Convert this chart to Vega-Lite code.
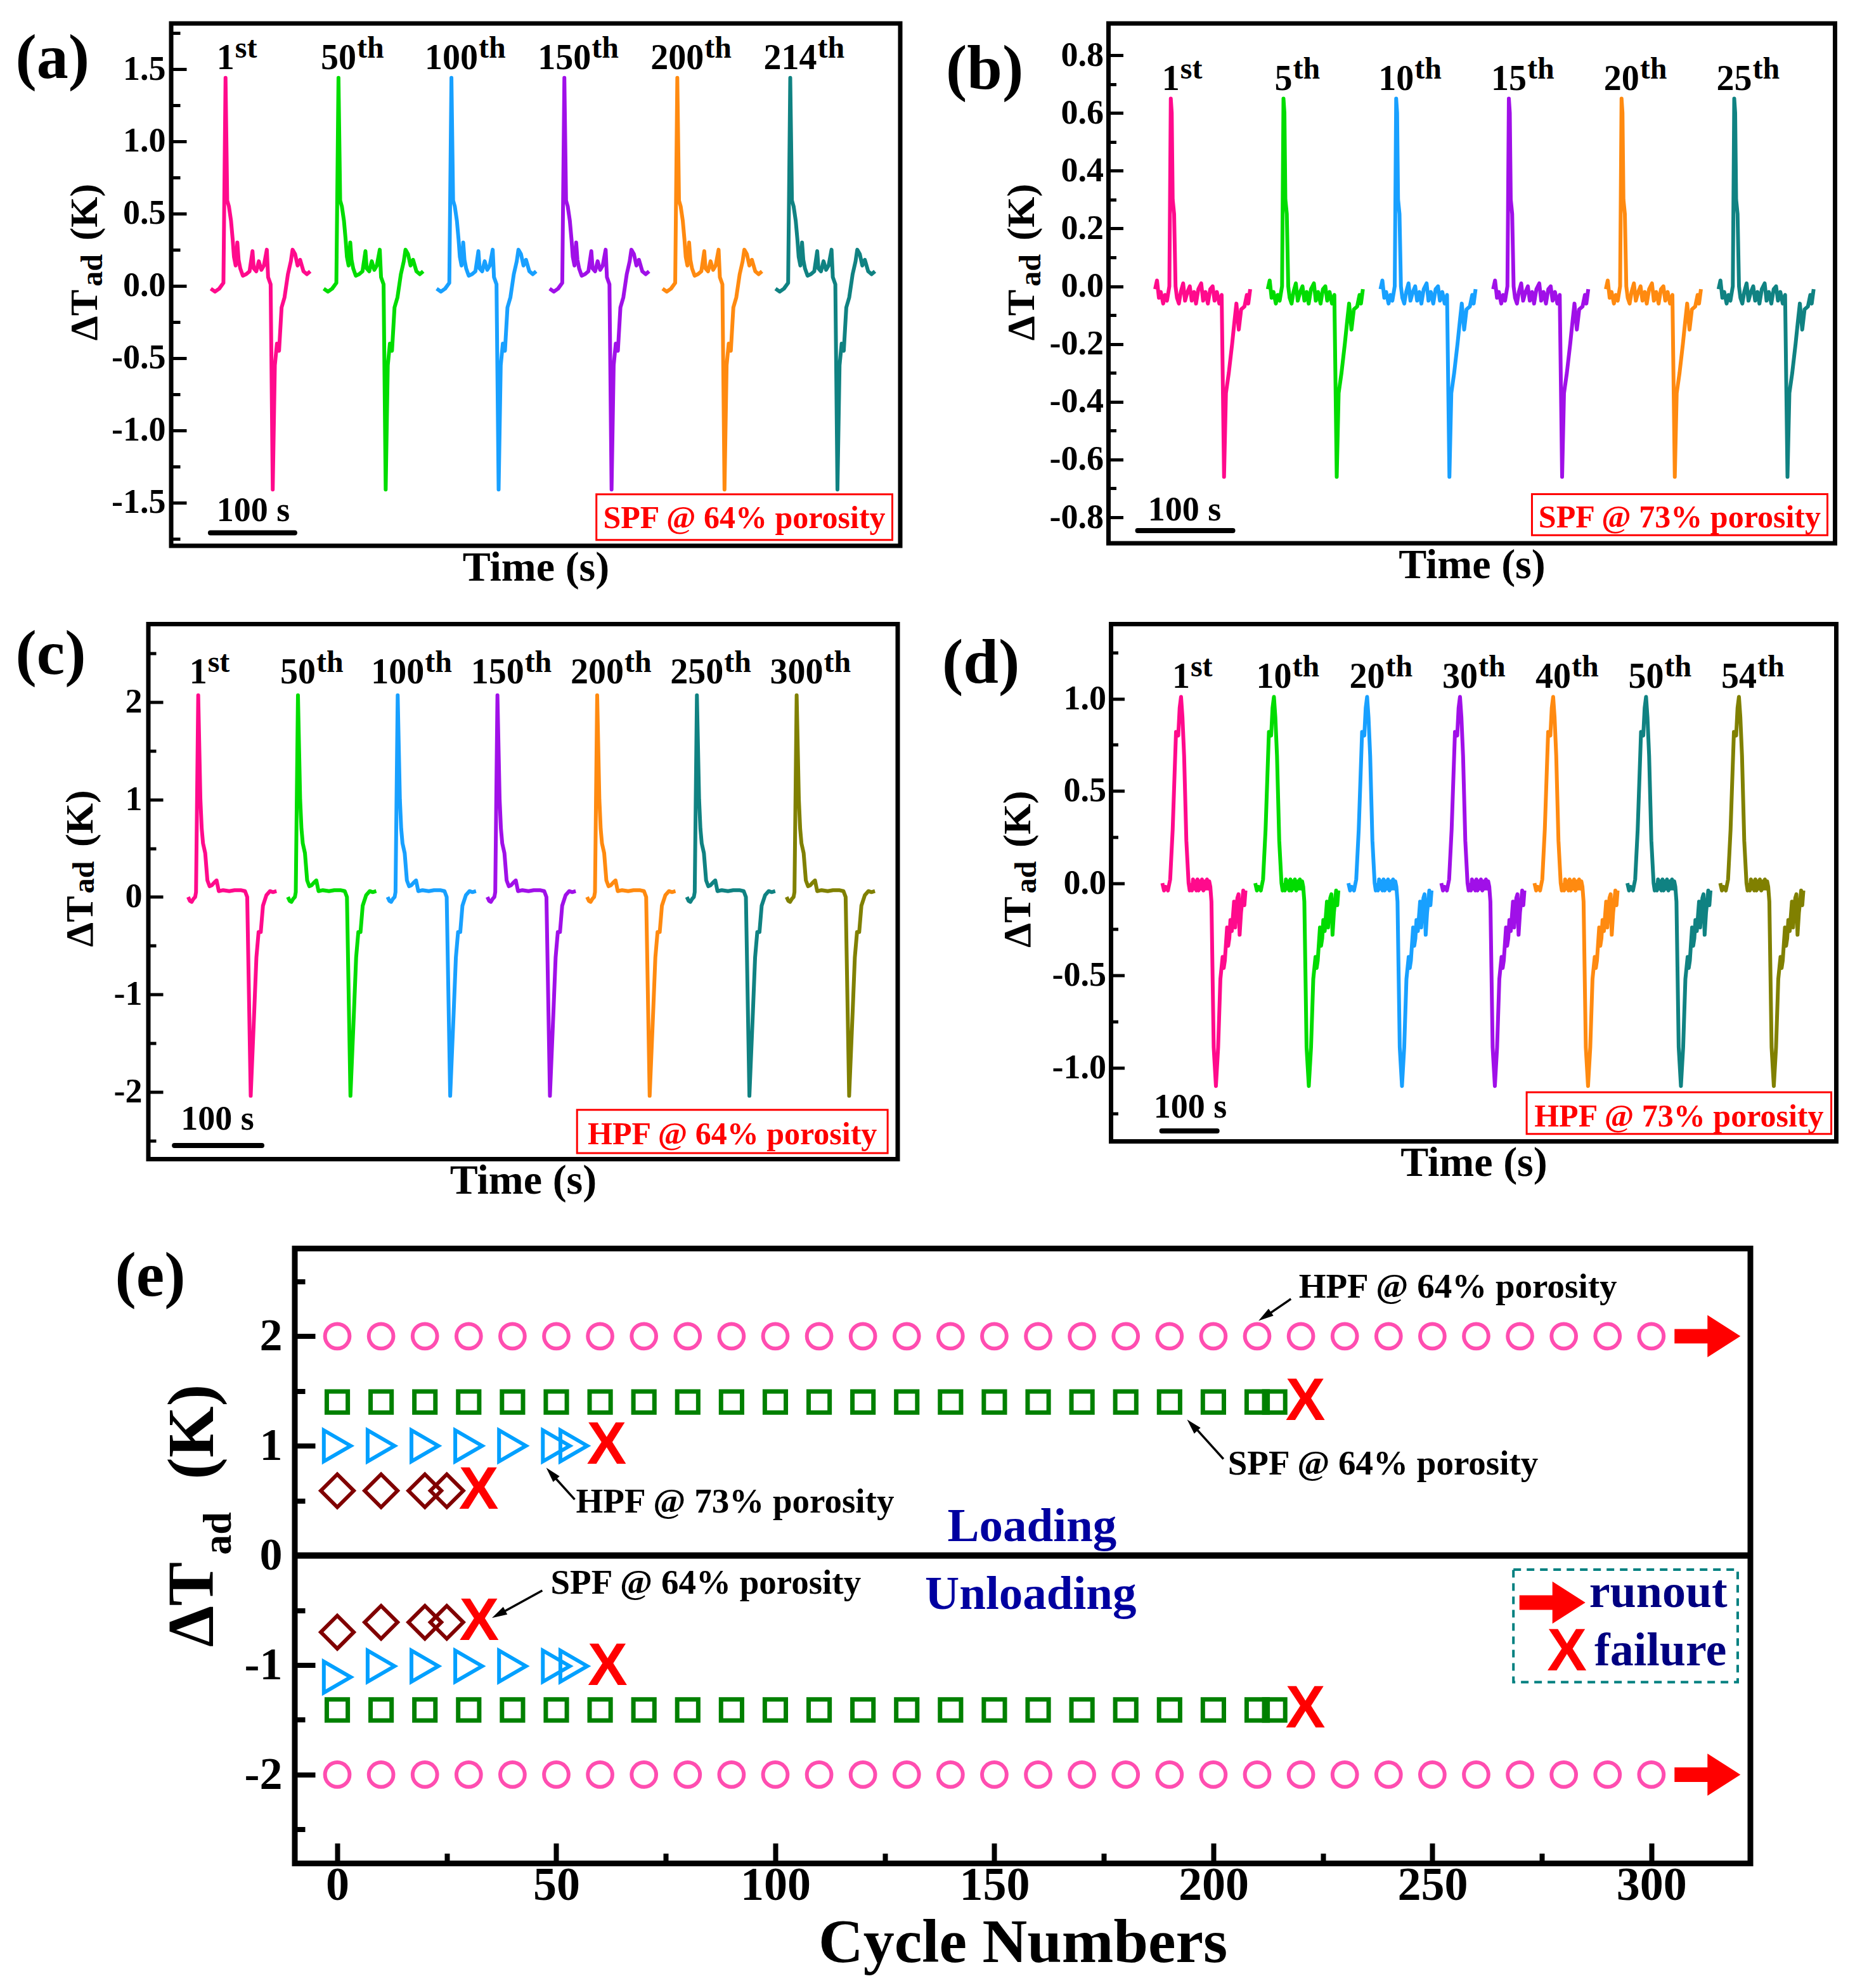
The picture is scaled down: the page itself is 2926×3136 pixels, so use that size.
{
"$schema": "https://vega.github.io/schema/vega-lite/v6.json",
"background": "white",
"padding": {"left": 0, "top": 33, "right": 5, "bottom": 5},
"config": {
  "font": "Liberation Serif",
  "view": {"stroke": "black", "strokeWidth": 7},
  "axis": {"domain": false, "grid": false, "labelFont": "Liberation Serif", "titleFont": "Liberation Serif", "labelFontWeight": "bold", "titleFontWeight": "bold", "labelColor": "black", "titleColor": "black", "tickColor": "black", "labelOverlap": false, "labelFlush": false},
  "text": {"font": "Liberation Serif", "fontWeight": "bold", "color": "black"}
},
"datasets": {
"a": [
{"c":0,"t":47,"v":-0.02},{"c":0,"t":52,"v":-0.04},{"c":0,"t":57,"v":-0.02},{"c":0,"t":62,"v":0.02},{"c":0,"t":64.5,"v":1.44},{"c":0,"t":66.5,"v":0.59},{"c":0,"t":68.5,"v":0.55},{"c":0,"t":71,"v":0.45},{"c":0,"t":73,"v":0.32},{"c":0,"t":74.5,"v":0.2},{"c":0,"t":76.5,"v":0.14},{"c":0,"t":78.5,"v":0.3},{"c":0,"t":80,"v":0.18},{"c":0,"t":82,"v":0.12},{"c":0,"t":85,"v":0.07},{"c":0,"t":89,"v":0.08},{"c":0,"t":93,"v":0.1},{"c":0,"t":96.5,"v":0.24},{"c":0,"t":98,"v":0.12},{"c":0,"t":101,"v":0.1},{"c":0,"t":104,"v":0.17},{"c":0,"t":107,"v":0.11},{"c":0,"t":110,"v":0.14},{"c":0,"t":113.5,"v":0.25},{"c":0,"t":115,"v":0.06},{"c":0,"t":118,"v":0.01},{"c":0,"t":120.5,"v":-1.41},{"c":0,"t":123,"v":-0.55},{"c":0,"t":125.5,"v":-0.4},{"c":0,"t":128,"v":-0.45},{"c":0,"t":131,"v":-0.15},{"c":0,"t":134.5,"v":-0.08},{"c":0,"t":138.5,"v":0.08},{"c":0,"t":142,"v":0.17},{"c":0,"t":144,"v":0.25},{"c":0,"t":147,"v":0.22},{"c":0,"t":150,"v":0.14},{"c":0,"t":153,"v":0.18},{"c":0,"t":157,"v":0.1},{"c":0,"t":161,"v":0.08},{"c":0,"t":165,"v":0.1},
{"c":1,"t":181,"v":-0.02},{"c":1,"t":186,"v":-0.04},{"c":1,"t":191,"v":-0.02},{"c":1,"t":196,"v":0.02},{"c":1,"t":198.5,"v":1.44},{"c":1,"t":200.5,"v":0.59},{"c":1,"t":202.5,"v":0.55},{"c":1,"t":205,"v":0.45},{"c":1,"t":207,"v":0.32},{"c":1,"t":208.5,"v":0.2},{"c":1,"t":210.5,"v":0.14},{"c":1,"t":212.5,"v":0.3},{"c":1,"t":214,"v":0.18},{"c":1,"t":216,"v":0.12},{"c":1,"t":219,"v":0.07},{"c":1,"t":223,"v":0.08},{"c":1,"t":227,"v":0.1},{"c":1,"t":230.5,"v":0.24},{"c":1,"t":232,"v":0.12},{"c":1,"t":235,"v":0.1},{"c":1,"t":238,"v":0.17},{"c":1,"t":241,"v":0.11},{"c":1,"t":244,"v":0.14},{"c":1,"t":247.5,"v":0.25},{"c":1,"t":249,"v":0.06},{"c":1,"t":252,"v":0.01},{"c":1,"t":254.5,"v":-1.41},{"c":1,"t":257,"v":-0.55},{"c":1,"t":259.5,"v":-0.4},{"c":1,"t":262,"v":-0.45},{"c":1,"t":265,"v":-0.15},{"c":1,"t":268.5,"v":-0.08},{"c":1,"t":272.5,"v":0.08},{"c":1,"t":276,"v":0.17},{"c":1,"t":278,"v":0.25},{"c":1,"t":281,"v":0.22},{"c":1,"t":284,"v":0.14},{"c":1,"t":287,"v":0.18},{"c":1,"t":291,"v":0.1},{"c":1,"t":295,"v":0.08},{"c":1,"t":299,"v":0.1},
{"c":2,"t":315,"v":-0.02},{"c":2,"t":320,"v":-0.04},{"c":2,"t":325,"v":-0.02},{"c":2,"t":330,"v":0.02},{"c":2,"t":332.5,"v":1.44},{"c":2,"t":334.5,"v":0.59},{"c":2,"t":336.5,"v":0.55},{"c":2,"t":339,"v":0.45},{"c":2,"t":341,"v":0.32},{"c":2,"t":342.5,"v":0.2},{"c":2,"t":344.5,"v":0.14},{"c":2,"t":346.5,"v":0.3},{"c":2,"t":348,"v":0.18},{"c":2,"t":350,"v":0.12},{"c":2,"t":353,"v":0.07},{"c":2,"t":357,"v":0.08},{"c":2,"t":361,"v":0.1},{"c":2,"t":364.5,"v":0.24},{"c":2,"t":366,"v":0.12},{"c":2,"t":369,"v":0.1},{"c":2,"t":372,"v":0.17},{"c":2,"t":375,"v":0.11},{"c":2,"t":378,"v":0.14},{"c":2,"t":381.5,"v":0.25},{"c":2,"t":383,"v":0.06},{"c":2,"t":386,"v":0.01},{"c":2,"t":388.5,"v":-1.41},{"c":2,"t":391,"v":-0.55},{"c":2,"t":393.5,"v":-0.4},{"c":2,"t":396,"v":-0.45},{"c":2,"t":399,"v":-0.15},{"c":2,"t":402.5,"v":-0.08},{"c":2,"t":406.5,"v":0.08},{"c":2,"t":410,"v":0.17},{"c":2,"t":412,"v":0.25},{"c":2,"t":415,"v":0.22},{"c":2,"t":418,"v":0.14},{"c":2,"t":421,"v":0.18},{"c":2,"t":425,"v":0.1},{"c":2,"t":429,"v":0.08},{"c":2,"t":433,"v":0.1},
{"c":3,"t":449,"v":-0.02},{"c":3,"t":454,"v":-0.04},{"c":3,"t":459,"v":-0.02},{"c":3,"t":464,"v":0.02},{"c":3,"t":466.5,"v":1.44},{"c":3,"t":468.5,"v":0.59},{"c":3,"t":470.5,"v":0.55},{"c":3,"t":473,"v":0.45},{"c":3,"t":475,"v":0.32},{"c":3,"t":476.5,"v":0.2},{"c":3,"t":478.5,"v":0.14},{"c":3,"t":480.5,"v":0.3},{"c":3,"t":482,"v":0.18},{"c":3,"t":484,"v":0.12},{"c":3,"t":487,"v":0.07},{"c":3,"t":491,"v":0.08},{"c":3,"t":495,"v":0.1},{"c":3,"t":498.5,"v":0.24},{"c":3,"t":500,"v":0.12},{"c":3,"t":503,"v":0.1},{"c":3,"t":506,"v":0.17},{"c":3,"t":509,"v":0.11},{"c":3,"t":512,"v":0.14},{"c":3,"t":515.5,"v":0.25},{"c":3,"t":517,"v":0.06},{"c":3,"t":520,"v":0.01},{"c":3,"t":522.5,"v":-1.41},{"c":3,"t":525,"v":-0.55},{"c":3,"t":527.5,"v":-0.4},{"c":3,"t":530,"v":-0.45},{"c":3,"t":533,"v":-0.15},{"c":3,"t":536.5,"v":-0.08},{"c":3,"t":540.5,"v":0.08},{"c":3,"t":544,"v":0.17},{"c":3,"t":546,"v":0.25},{"c":3,"t":549,"v":0.22},{"c":3,"t":552,"v":0.14},{"c":3,"t":555,"v":0.18},{"c":3,"t":559,"v":0.1},{"c":3,"t":563,"v":0.08},{"c":3,"t":567,"v":0.1},
{"c":4,"t":583,"v":-0.02},{"c":4,"t":588,"v":-0.04},{"c":4,"t":593,"v":-0.02},{"c":4,"t":598,"v":0.02},{"c":4,"t":600.5,"v":1.44},{"c":4,"t":602.5,"v":0.59},{"c":4,"t":604.5,"v":0.55},{"c":4,"t":607,"v":0.45},{"c":4,"t":609,"v":0.32},{"c":4,"t":610.5,"v":0.2},{"c":4,"t":612.5,"v":0.14},{"c":4,"t":614.5,"v":0.3},{"c":4,"t":616,"v":0.18},{"c":4,"t":618,"v":0.12},{"c":4,"t":621,"v":0.07},{"c":4,"t":625,"v":0.08},{"c":4,"t":629,"v":0.1},{"c":4,"t":632.5,"v":0.24},{"c":4,"t":634,"v":0.12},{"c":4,"t":637,"v":0.1},{"c":4,"t":640,"v":0.17},{"c":4,"t":643,"v":0.11},{"c":4,"t":646,"v":0.14},{"c":4,"t":649.5,"v":0.25},{"c":4,"t":651,"v":0.06},{"c":4,"t":654,"v":0.01},{"c":4,"t":656.5,"v":-1.41},{"c":4,"t":659,"v":-0.55},{"c":4,"t":661.5,"v":-0.4},{"c":4,"t":664,"v":-0.45},{"c":4,"t":667,"v":-0.15},{"c":4,"t":670.5,"v":-0.08},{"c":4,"t":674.5,"v":0.08},{"c":4,"t":678,"v":0.17},{"c":4,"t":680,"v":0.25},{"c":4,"t":683,"v":0.22},{"c":4,"t":686,"v":0.14},{"c":4,"t":689,"v":0.18},{"c":4,"t":693,"v":0.1},{"c":4,"t":697,"v":0.08},{"c":4,"t":701,"v":0.1},
{"c":5,"t":717,"v":-0.02},{"c":5,"t":722,"v":-0.04},{"c":5,"t":727,"v":-0.02},{"c":5,"t":732,"v":0.02},{"c":5,"t":734.5,"v":1.44},{"c":5,"t":736.5,"v":0.59},{"c":5,"t":738.5,"v":0.55},{"c":5,"t":741,"v":0.45},{"c":5,"t":743,"v":0.32},{"c":5,"t":744.5,"v":0.2},{"c":5,"t":746.5,"v":0.14},{"c":5,"t":748.5,"v":0.3},{"c":5,"t":750,"v":0.18},{"c":5,"t":752,"v":0.12},{"c":5,"t":755,"v":0.07},{"c":5,"t":759,"v":0.08},{"c":5,"t":763,"v":0.1},{"c":5,"t":766.5,"v":0.24},{"c":5,"t":768,"v":0.12},{"c":5,"t":771,"v":0.1},{"c":5,"t":774,"v":0.17},{"c":5,"t":777,"v":0.11},{"c":5,"t":780,"v":0.14},{"c":5,"t":783.5,"v":0.25},{"c":5,"t":785,"v":0.06},{"c":5,"t":788,"v":0.01},{"c":5,"t":790.5,"v":-1.41},{"c":5,"t":793,"v":-0.55},{"c":5,"t":795.5,"v":-0.4},{"c":5,"t":798,"v":-0.45},{"c":5,"t":801,"v":-0.15},{"c":5,"t":804.5,"v":-0.08},{"c":5,"t":808.5,"v":0.08},{"c":5,"t":812,"v":0.17},{"c":5,"t":814,"v":0.25},{"c":5,"t":817,"v":0.22},{"c":5,"t":820,"v":0.14},{"c":5,"t":823,"v":0.18},{"c":5,"t":827,"v":0.1},{"c":5,"t":831,"v":0.08},{"c":5,"t":835,"v":0.1}
],
"aLab": [{"n":"1","s":"st","t":64.5},{"n":"50","s":"th","t":198.5},{"n":"100","s":"th","t":332.5},{"n":"150","s":"th","t":466.5},{"n":"200","s":"th","t":600.5},{"n":"214","s":"th","t":734.5}],
"b": [
{"c":0,"t":49,"v":-0.01},{"c":0,"t":51,"v":0.02},{"c":0,"t":53,"v":-0.04},{"c":0,"t":55,"v":-0.02},{"c":0,"t":57.5,"v":-0.06},{"c":0,"t":59.5,"v":-0.03},{"c":0,"t":61.5,"v":-0.05},{"c":0,"t":64,"v":0},{"c":0,"t":65.5,"v":0.65},{"c":0,"t":66.5,"v":0.6},{"c":0,"t":67.5,"v":0.3},{"c":0,"t":69,"v":0.25},{"c":0,"t":70.5,"v":0},{"c":0,"t":72,"v":-0.04},{"c":0,"t":74,"v":-0.06},{"c":0,"t":76,"v":-0.02},{"c":0,"t":78.5,"v":0.01},{"c":0,"t":80.5,"v":-0.05},{"c":0,"t":83,"v":-0.02},{"c":0,"t":85.5,"v":0},{"c":0,"t":87.5,"v":-0.05},{"c":0,"t":90,"v":-0.02},{"c":0,"t":92,"v":-0.06},{"c":0,"t":94.5,"v":-0.01},{"c":0,"t":97.5,"v":0.01},{"c":0,"t":99.5,"v":-0.05},{"c":0,"t":102,"v":-0.02},{"c":0,"t":104.5,"v":-0.06},{"c":0,"t":107,"v":-0.01},{"c":0,"t":109.5,"v":0},{"c":0,"t":111.5,"v":-0.05},{"c":0,"t":114,"v":-0.02},{"c":0,"t":116.5,"v":-0.06},{"c":0,"t":119,"v":-0.03},{"c":0,"t":121.5,"v":-0.66},{"c":0,"t":123.5,"v":-0.37},{"c":0,"t":126.5,"v":-0.3},{"c":0,"t":130,"v":-0.2},{"c":0,"t":132.5,"v":-0.12},{"c":0,"t":134.5,"v":-0.06},{"c":0,"t":137,"v":-0.15},{"c":0,"t":139.5,"v":-0.08},{"c":0,"t":143,"v":-0.07},{"c":0,"t":145.5,"v":-0.03},{"c":0,"t":147,"v":-0.06},{"c":0,"t":149,"v":-0.01},
{"c":1,"t":167.5,"v":-0.01},{"c":1,"t":169.5,"v":0.02},{"c":1,"t":171.5,"v":-0.04},{"c":1,"t":173.5,"v":-0.02},{"c":1,"t":176,"v":-0.06},{"c":1,"t":178,"v":-0.03},{"c":1,"t":180,"v":-0.05},{"c":1,"t":182.5,"v":0},{"c":1,"t":184,"v":0.65},{"c":1,"t":185,"v":0.6},{"c":1,"t":186,"v":0.3},{"c":1,"t":187.5,"v":0.25},{"c":1,"t":189,"v":0},{"c":1,"t":190.5,"v":-0.04},{"c":1,"t":192.5,"v":-0.06},{"c":1,"t":194.5,"v":-0.02},{"c":1,"t":197,"v":0.01},{"c":1,"t":199,"v":-0.05},{"c":1,"t":201.5,"v":-0.02},{"c":1,"t":204,"v":0},{"c":1,"t":206,"v":-0.05},{"c":1,"t":208.5,"v":-0.02},{"c":1,"t":210.5,"v":-0.06},{"c":1,"t":213,"v":-0.01},{"c":1,"t":216,"v":0.01},{"c":1,"t":218,"v":-0.05},{"c":1,"t":220.5,"v":-0.02},{"c":1,"t":223,"v":-0.06},{"c":1,"t":225.5,"v":-0.01},{"c":1,"t":228,"v":0},{"c":1,"t":230,"v":-0.05},{"c":1,"t":232.5,"v":-0.02},{"c":1,"t":235,"v":-0.06},{"c":1,"t":237.5,"v":-0.03},{"c":1,"t":240,"v":-0.66},{"c":1,"t":242,"v":-0.37},{"c":1,"t":245,"v":-0.3},{"c":1,"t":248.5,"v":-0.2},{"c":1,"t":251,"v":-0.12},{"c":1,"t":253,"v":-0.06},{"c":1,"t":255.5,"v":-0.15},{"c":1,"t":258,"v":-0.08},{"c":1,"t":261.5,"v":-0.07},{"c":1,"t":264,"v":-0.03},{"c":1,"t":265.5,"v":-0.06},{"c":1,"t":267.5,"v":-0.01},
{"c":2,"t":286,"v":-0.01},{"c":2,"t":288,"v":0.02},{"c":2,"t":290,"v":-0.04},{"c":2,"t":292,"v":-0.02},{"c":2,"t":294.5,"v":-0.06},{"c":2,"t":296.5,"v":-0.03},{"c":2,"t":298.5,"v":-0.05},{"c":2,"t":301,"v":0},{"c":2,"t":302.5,"v":0.65},{"c":2,"t":303.5,"v":0.6},{"c":2,"t":304.5,"v":0.3},{"c":2,"t":306,"v":0.25},{"c":2,"t":307.5,"v":0},{"c":2,"t":309,"v":-0.04},{"c":2,"t":311,"v":-0.06},{"c":2,"t":313,"v":-0.02},{"c":2,"t":315.5,"v":0.01},{"c":2,"t":317.5,"v":-0.05},{"c":2,"t":320,"v":-0.02},{"c":2,"t":322.5,"v":0},{"c":2,"t":324.5,"v":-0.05},{"c":2,"t":327,"v":-0.02},{"c":2,"t":329,"v":-0.06},{"c":2,"t":331.5,"v":-0.01},{"c":2,"t":334.5,"v":0.01},{"c":2,"t":336.5,"v":-0.05},{"c":2,"t":339,"v":-0.02},{"c":2,"t":341.5,"v":-0.06},{"c":2,"t":344,"v":-0.01},{"c":2,"t":346.5,"v":0},{"c":2,"t":348.5,"v":-0.05},{"c":2,"t":351,"v":-0.02},{"c":2,"t":353.5,"v":-0.06},{"c":2,"t":356,"v":-0.03},{"c":2,"t":358.5,"v":-0.66},{"c":2,"t":360.5,"v":-0.37},{"c":2,"t":363.5,"v":-0.3},{"c":2,"t":367,"v":-0.2},{"c":2,"t":369.5,"v":-0.12},{"c":2,"t":371.5,"v":-0.06},{"c":2,"t":374,"v":-0.15},{"c":2,"t":376.5,"v":-0.08},{"c":2,"t":380,"v":-0.07},{"c":2,"t":382.5,"v":-0.03},{"c":2,"t":384,"v":-0.06},{"c":2,"t":386,"v":-0.01},
{"c":3,"t":404.5,"v":-0.01},{"c":3,"t":406.5,"v":0.02},{"c":3,"t":408.5,"v":-0.04},{"c":3,"t":410.5,"v":-0.02},{"c":3,"t":413,"v":-0.06},{"c":3,"t":415,"v":-0.03},{"c":3,"t":417,"v":-0.05},{"c":3,"t":419.5,"v":0},{"c":3,"t":421,"v":0.65},{"c":3,"t":422,"v":0.6},{"c":3,"t":423,"v":0.3},{"c":3,"t":424.5,"v":0.25},{"c":3,"t":426,"v":0},{"c":3,"t":427.5,"v":-0.04},{"c":3,"t":429.5,"v":-0.06},{"c":3,"t":431.5,"v":-0.02},{"c":3,"t":434,"v":0.01},{"c":3,"t":436,"v":-0.05},{"c":3,"t":438.5,"v":-0.02},{"c":3,"t":441,"v":0},{"c":3,"t":443,"v":-0.05},{"c":3,"t":445.5,"v":-0.02},{"c":3,"t":447.5,"v":-0.06},{"c":3,"t":450,"v":-0.01},{"c":3,"t":453,"v":0.01},{"c":3,"t":455,"v":-0.05},{"c":3,"t":457.5,"v":-0.02},{"c":3,"t":460,"v":-0.06},{"c":3,"t":462.5,"v":-0.01},{"c":3,"t":465,"v":0},{"c":3,"t":467,"v":-0.05},{"c":3,"t":469.5,"v":-0.02},{"c":3,"t":472,"v":-0.06},{"c":3,"t":474.5,"v":-0.03},{"c":3,"t":477,"v":-0.66},{"c":3,"t":479,"v":-0.37},{"c":3,"t":482,"v":-0.3},{"c":3,"t":485.5,"v":-0.2},{"c":3,"t":488,"v":-0.12},{"c":3,"t":490,"v":-0.06},{"c":3,"t":492.5,"v":-0.15},{"c":3,"t":495,"v":-0.08},{"c":3,"t":498.5,"v":-0.07},{"c":3,"t":501,"v":-0.03},{"c":3,"t":502.5,"v":-0.06},{"c":3,"t":504.5,"v":-0.01},
{"c":4,"t":523,"v":-0.01},{"c":4,"t":525,"v":0.02},{"c":4,"t":527,"v":-0.04},{"c":4,"t":529,"v":-0.02},{"c":4,"t":531.5,"v":-0.06},{"c":4,"t":533.5,"v":-0.03},{"c":4,"t":535.5,"v":-0.05},{"c":4,"t":538,"v":0},{"c":4,"t":539.5,"v":0.65},{"c":4,"t":540.5,"v":0.6},{"c":4,"t":541.5,"v":0.3},{"c":4,"t":543,"v":0.25},{"c":4,"t":544.5,"v":0},{"c":4,"t":546,"v":-0.04},{"c":4,"t":548,"v":-0.06},{"c":4,"t":550,"v":-0.02},{"c":4,"t":552.5,"v":0.01},{"c":4,"t":554.5,"v":-0.05},{"c":4,"t":557,"v":-0.02},{"c":4,"t":559.5,"v":0},{"c":4,"t":561.5,"v":-0.05},{"c":4,"t":564,"v":-0.02},{"c":4,"t":566,"v":-0.06},{"c":4,"t":568.5,"v":-0.01},{"c":4,"t":571.5,"v":0.01},{"c":4,"t":573.5,"v":-0.05},{"c":4,"t":576,"v":-0.02},{"c":4,"t":578.5,"v":-0.06},{"c":4,"t":581,"v":-0.01},{"c":4,"t":583.5,"v":0},{"c":4,"t":585.5,"v":-0.05},{"c":4,"t":588,"v":-0.02},{"c":4,"t":590.5,"v":-0.06},{"c":4,"t":593,"v":-0.03},{"c":4,"t":595.5,"v":-0.66},{"c":4,"t":597.5,"v":-0.37},{"c":4,"t":600.5,"v":-0.3},{"c":4,"t":604,"v":-0.2},{"c":4,"t":606.5,"v":-0.12},{"c":4,"t":608.5,"v":-0.06},{"c":4,"t":611,"v":-0.15},{"c":4,"t":613.5,"v":-0.08},{"c":4,"t":617,"v":-0.07},{"c":4,"t":619.5,"v":-0.03},{"c":4,"t":621,"v":-0.06},{"c":4,"t":623,"v":-0.01},
{"c":5,"t":641.5,"v":-0.01},{"c":5,"t":643.5,"v":0.02},{"c":5,"t":645.5,"v":-0.04},{"c":5,"t":647.5,"v":-0.02},{"c":5,"t":650,"v":-0.06},{"c":5,"t":652,"v":-0.03},{"c":5,"t":654,"v":-0.05},{"c":5,"t":656.5,"v":0},{"c":5,"t":658,"v":0.65},{"c":5,"t":659,"v":0.6},{"c":5,"t":660,"v":0.3},{"c":5,"t":661.5,"v":0.25},{"c":5,"t":663,"v":0},{"c":5,"t":664.5,"v":-0.04},{"c":5,"t":666.5,"v":-0.06},{"c":5,"t":668.5,"v":-0.02},{"c":5,"t":671,"v":0.01},{"c":5,"t":673,"v":-0.05},{"c":5,"t":675.5,"v":-0.02},{"c":5,"t":678,"v":0},{"c":5,"t":680,"v":-0.05},{"c":5,"t":682.5,"v":-0.02},{"c":5,"t":684.5,"v":-0.06},{"c":5,"t":687,"v":-0.01},{"c":5,"t":690,"v":0.01},{"c":5,"t":692,"v":-0.05},{"c":5,"t":694.5,"v":-0.02},{"c":5,"t":697,"v":-0.06},{"c":5,"t":699.5,"v":-0.01},{"c":5,"t":702,"v":0},{"c":5,"t":704,"v":-0.05},{"c":5,"t":706.5,"v":-0.02},{"c":5,"t":709,"v":-0.06},{"c":5,"t":711.5,"v":-0.03},{"c":5,"t":714,"v":-0.66},{"c":5,"t":716,"v":-0.37},{"c":5,"t":719,"v":-0.3},{"c":5,"t":722.5,"v":-0.2},{"c":5,"t":725,"v":-0.12},{"c":5,"t":727,"v":-0.06},{"c":5,"t":729.5,"v":-0.15},{"c":5,"t":732,"v":-0.08},{"c":5,"t":735.5,"v":-0.07},{"c":5,"t":738,"v":-0.03},{"c":5,"t":739.5,"v":-0.06},{"c":5,"t":741.5,"v":-0.01}
],
"bLab": [{"n":"1","s":"st","t":65.5},{"n":"5","s":"th","t":184},{"n":"10","s":"th","t":302.5},{"n":"15","s":"th","t":421},{"n":"20","s":"th","t":539.5},{"n":"25","s":"th","t":658}],
"c": [
{"c":0,"t":45.5,"v":0},{"c":0,"t":47.5,"v":-0.04},{"c":0,"t":49.5,"v":-0.05},{"c":0,"t":51.5,"v":-0.02},{"c":0,"t":53.5,"v":0},{"c":0,"t":54.5,"v":0.05},{"c":0,"t":57,"v":2.07},{"c":0,"t":59.5,"v":1},{"c":0,"t":61,"v":0.7},{"c":0,"t":62.5,"v":0.55},{"c":0,"t":65,"v":0.45},{"c":0,"t":67.5,"v":0.17},{"c":0,"t":70,"v":0.11},{"c":0,"t":72.5,"v":0.12},{"c":0,"t":75.5,"v":0.15},{"c":0,"t":78,"v":0.17},{"c":0,"t":80.5,"v":0.06},{"c":0,"t":85.5,"v":0.07},{"c":0,"t":92.5,"v":0.06},{"c":0,"t":98.5,"v":0.07},{"c":0,"t":105.5,"v":0.07},{"c":0,"t":110.5,"v":0.06},{"c":0,"t":113,"v":0},{"c":0,"t":117,"v":-2.04},{"c":0,"t":121,"v":-1.18},{"c":0,"t":123.5,"v":-0.62},{"c":0,"t":126,"v":-0.36},{"c":0,"t":128.5,"v":-0.36},{"c":0,"t":131,"v":-0.09},{"c":0,"t":135,"v":0.02},{"c":0,"t":139,"v":0.06},{"c":0,"t":142.5,"v":0.05},{"c":0,"t":146.5,"v":0.06},
{"c":1,"t":159.5,"v":0},{"c":1,"t":161.5,"v":-0.04},{"c":1,"t":163.5,"v":-0.05},{"c":1,"t":165.5,"v":-0.02},{"c":1,"t":167.5,"v":0},{"c":1,"t":168.5,"v":0.05},{"c":1,"t":171,"v":2.07},{"c":1,"t":173.5,"v":1},{"c":1,"t":175,"v":0.7},{"c":1,"t":176.5,"v":0.55},{"c":1,"t":179,"v":0.45},{"c":1,"t":181.5,"v":0.17},{"c":1,"t":184,"v":0.11},{"c":1,"t":186.5,"v":0.12},{"c":1,"t":189.5,"v":0.15},{"c":1,"t":192,"v":0.17},{"c":1,"t":194.5,"v":0.06},{"c":1,"t":199.5,"v":0.07},{"c":1,"t":206.5,"v":0.06},{"c":1,"t":212.5,"v":0.07},{"c":1,"t":219.5,"v":0.07},{"c":1,"t":224.5,"v":0.06},{"c":1,"t":227,"v":0},{"c":1,"t":231,"v":-2.04},{"c":1,"t":235,"v":-1.18},{"c":1,"t":237.5,"v":-0.62},{"c":1,"t":240,"v":-0.36},{"c":1,"t":242.5,"v":-0.36},{"c":1,"t":245,"v":-0.09},{"c":1,"t":249,"v":0.02},{"c":1,"t":253,"v":0.06},{"c":1,"t":256.5,"v":0.05},{"c":1,"t":260.5,"v":0.06},
{"c":2,"t":273.5,"v":0},{"c":2,"t":275.5,"v":-0.04},{"c":2,"t":277.5,"v":-0.05},{"c":2,"t":279.5,"v":-0.02},{"c":2,"t":281.5,"v":0},{"c":2,"t":282.5,"v":0.05},{"c":2,"t":285,"v":2.07},{"c":2,"t":287.5,"v":1},{"c":2,"t":289,"v":0.7},{"c":2,"t":290.5,"v":0.55},{"c":2,"t":293,"v":0.45},{"c":2,"t":295.5,"v":0.17},{"c":2,"t":298,"v":0.11},{"c":2,"t":300.5,"v":0.12},{"c":2,"t":303.5,"v":0.15},{"c":2,"t":306,"v":0.17},{"c":2,"t":308.5,"v":0.06},{"c":2,"t":313.5,"v":0.07},{"c":2,"t":320.5,"v":0.06},{"c":2,"t":326.5,"v":0.07},{"c":2,"t":333.5,"v":0.07},{"c":2,"t":338.5,"v":0.06},{"c":2,"t":341,"v":0},{"c":2,"t":345,"v":-2.04},{"c":2,"t":349,"v":-1.18},{"c":2,"t":351.5,"v":-0.62},{"c":2,"t":354,"v":-0.36},{"c":2,"t":356.5,"v":-0.36},{"c":2,"t":359,"v":-0.09},{"c":2,"t":363,"v":0.02},{"c":2,"t":367,"v":0.06},{"c":2,"t":370.5,"v":0.05},{"c":2,"t":374.5,"v":0.06},
{"c":3,"t":387.5,"v":0},{"c":3,"t":389.5,"v":-0.04},{"c":3,"t":391.5,"v":-0.05},{"c":3,"t":393.5,"v":-0.02},{"c":3,"t":395.5,"v":0},{"c":3,"t":396.5,"v":0.05},{"c":3,"t":399,"v":2.07},{"c":3,"t":401.5,"v":1},{"c":3,"t":403,"v":0.7},{"c":3,"t":404.5,"v":0.55},{"c":3,"t":407,"v":0.45},{"c":3,"t":409.5,"v":0.17},{"c":3,"t":412,"v":0.11},{"c":3,"t":414.5,"v":0.12},{"c":3,"t":417.5,"v":0.15},{"c":3,"t":420,"v":0.17},{"c":3,"t":422.5,"v":0.06},{"c":3,"t":427.5,"v":0.07},{"c":3,"t":434.5,"v":0.06},{"c":3,"t":440.5,"v":0.07},{"c":3,"t":447.5,"v":0.07},{"c":3,"t":452.5,"v":0.06},{"c":3,"t":455,"v":0},{"c":3,"t":459,"v":-2.04},{"c":3,"t":463,"v":-1.18},{"c":3,"t":465.5,"v":-0.62},{"c":3,"t":468,"v":-0.36},{"c":3,"t":470.5,"v":-0.36},{"c":3,"t":473,"v":-0.09},{"c":3,"t":477,"v":0.02},{"c":3,"t":481,"v":0.06},{"c":3,"t":484.5,"v":0.05},{"c":3,"t":488.5,"v":0.06},
{"c":4,"t":501.5,"v":0},{"c":4,"t":503.5,"v":-0.04},{"c":4,"t":505.5,"v":-0.05},{"c":4,"t":507.5,"v":-0.02},{"c":4,"t":509.5,"v":0},{"c":4,"t":510.5,"v":0.05},{"c":4,"t":513,"v":2.07},{"c":4,"t":515.5,"v":1},{"c":4,"t":517,"v":0.7},{"c":4,"t":518.5,"v":0.55},{"c":4,"t":521,"v":0.45},{"c":4,"t":523.5,"v":0.17},{"c":4,"t":526,"v":0.11},{"c":4,"t":528.5,"v":0.12},{"c":4,"t":531.5,"v":0.15},{"c":4,"t":534,"v":0.17},{"c":4,"t":536.5,"v":0.06},{"c":4,"t":541.5,"v":0.07},{"c":4,"t":548.5,"v":0.06},{"c":4,"t":554.5,"v":0.07},{"c":4,"t":561.5,"v":0.07},{"c":4,"t":566.5,"v":0.06},{"c":4,"t":569,"v":0},{"c":4,"t":573,"v":-2.04},{"c":4,"t":577,"v":-1.18},{"c":4,"t":579.5,"v":-0.62},{"c":4,"t":582,"v":-0.36},{"c":4,"t":584.5,"v":-0.36},{"c":4,"t":587,"v":-0.09},{"c":4,"t":591,"v":0.02},{"c":4,"t":595,"v":0.06},{"c":4,"t":598.5,"v":0.05},{"c":4,"t":602.5,"v":0.06},
{"c":5,"t":615.5,"v":0},{"c":5,"t":617.5,"v":-0.04},{"c":5,"t":619.5,"v":-0.05},{"c":5,"t":621.5,"v":-0.02},{"c":5,"t":623.5,"v":0},{"c":5,"t":624.5,"v":0.05},{"c":5,"t":627,"v":2.07},{"c":5,"t":629.5,"v":1},{"c":5,"t":631,"v":0.7},{"c":5,"t":632.5,"v":0.55},{"c":5,"t":635,"v":0.45},{"c":5,"t":637.5,"v":0.17},{"c":5,"t":640,"v":0.11},{"c":5,"t":642.5,"v":0.12},{"c":5,"t":645.5,"v":0.15},{"c":5,"t":648,"v":0.17},{"c":5,"t":650.5,"v":0.06},{"c":5,"t":655.5,"v":0.07},{"c":5,"t":662.5,"v":0.06},{"c":5,"t":668.5,"v":0.07},{"c":5,"t":675.5,"v":0.07},{"c":5,"t":680.5,"v":0.06},{"c":5,"t":683,"v":0},{"c":5,"t":687,"v":-2.04},{"c":5,"t":691,"v":-1.18},{"c":5,"t":693.5,"v":-0.62},{"c":5,"t":696,"v":-0.36},{"c":5,"t":698.5,"v":-0.36},{"c":5,"t":701,"v":-0.09},{"c":5,"t":705,"v":0.02},{"c":5,"t":709,"v":0.06},{"c":5,"t":712.5,"v":0.05},{"c":5,"t":716.5,"v":0.06},
{"c":6,"t":729.5,"v":0},{"c":6,"t":731.5,"v":-0.04},{"c":6,"t":733.5,"v":-0.05},{"c":6,"t":735.5,"v":-0.02},{"c":6,"t":737.5,"v":0},{"c":6,"t":738.5,"v":0.05},{"c":6,"t":741,"v":2.07},{"c":6,"t":743.5,"v":1},{"c":6,"t":745,"v":0.7},{"c":6,"t":746.5,"v":0.55},{"c":6,"t":749,"v":0.45},{"c":6,"t":751.5,"v":0.17},{"c":6,"t":754,"v":0.11},{"c":6,"t":756.5,"v":0.12},{"c":6,"t":759.5,"v":0.15},{"c":6,"t":762,"v":0.17},{"c":6,"t":764.5,"v":0.06},{"c":6,"t":769.5,"v":0.07},{"c":6,"t":776.5,"v":0.06},{"c":6,"t":782.5,"v":0.07},{"c":6,"t":789.5,"v":0.07},{"c":6,"t":794.5,"v":0.06},{"c":6,"t":797,"v":0},{"c":6,"t":801,"v":-2.04},{"c":6,"t":805,"v":-1.18},{"c":6,"t":807.5,"v":-0.62},{"c":6,"t":810,"v":-0.36},{"c":6,"t":812.5,"v":-0.36},{"c":6,"t":815,"v":-0.09},{"c":6,"t":819,"v":0.02},{"c":6,"t":823,"v":0.06},{"c":6,"t":826.5,"v":0.05},{"c":6,"t":830.5,"v":0.06}
],
"cLab": [{"n":"1","s":"st","t":57},{"n":"50","s":"th","t":171},{"n":"100","s":"th","t":285},{"n":"150","s":"th","t":399},{"n":"200","s":"th","t":513},{"n":"250","s":"th","t":627},{"n":"300","s":"th","t":741}],
"d": [
{"c":0,"t":92,"v":0},{"c":0,"t":95,"v":-0.04},{"c":0,"t":98,"v":-0.02},{"c":0,"t":102,"v":-0.04},{"c":0,"t":106,"v":0.02},{"c":0,"t":110.5,"v":0.29},{"c":0,"t":114,"v":0.6},{"c":0,"t":116.5,"v":0.82},{"c":0,"t":120.5,"v":0.8},{"c":0,"t":123,"v":0.95},{"c":0,"t":125.5,"v":1.01},{"c":0,"t":128,"v":0.9},{"c":0,"t":131,"v":0.69},{"c":0,"t":135,"v":0.23},{"c":0,"t":139,"v":0},{"c":0,"t":141,"v":-0.04},{"c":0,"t":143,"v":-0.01},{"c":0,"t":145,"v":-0.04},{"c":0,"t":147,"v":0.02},{"c":0,"t":149,"v":-0.03},{"c":0,"t":151,"v":0.01},{"c":0,"t":153,"v":-0.04},{"c":0,"t":155,"v":0.02},{"c":0,"t":157,"v":-0.04},{"c":0,"t":159,"v":0.01},{"c":0,"t":161,"v":-0.03},{"c":0,"t":163,"v":0.02},{"c":0,"t":165.5,"v":-0.04},{"c":0,"t":168,"v":0.01},{"c":0,"t":170,"v":-0.03},{"c":0,"t":172,"v":0.02},{"c":0,"t":174,"v":-0.03},{"c":0,"t":176,"v":0.01},{"c":0,"t":178,"v":-0.02},{"c":0,"t":180,"v":-0.1},{"c":0,"t":184,"v":-0.89},{"c":0,"t":188,"v":-1.1},{"c":0,"t":192,"v":-0.89},{"c":0,"t":196,"v":-0.52},{"c":0,"t":200,"v":-0.4},{"c":0,"t":202,"v":-0.46},{"c":0,"t":204,"v":-0.42},{"c":0,"t":208,"v":-0.24},{"c":0,"t":210,"v":-0.34},{"c":0,"t":212,"v":-0.3},{"c":0,"t":214,"v":-0.2},{"c":0,"t":216.5,"v":-0.26},{"c":0,"t":218.5,"v":-0.18},{"c":0,"t":220.5,"v":-0.1},{"c":0,"t":222.5,"v":-0.24},{"c":0,"t":224.5,"v":-0.15},{"c":0,"t":226.5,"v":-0.08},{"c":0,"t":228.5,"v":-0.06},{"c":0,"t":230.5,"v":-0.28},{"c":0,"t":233,"v":-0.16},{"c":0,"t":235,"v":-0.1},{"c":0,"t":237,"v":-0.04},{"c":0,"t":239,"v":-0.12},{"c":0,"t":241,"v":-0.04},
{"c":1,"t":258.5,"v":0},{"c":1,"t":261.5,"v":-0.04},{"c":1,"t":264.5,"v":-0.02},{"c":1,"t":268.5,"v":-0.04},{"c":1,"t":272.5,"v":0.02},{"c":1,"t":277,"v":0.29},{"c":1,"t":280.5,"v":0.6},{"c":1,"t":283,"v":0.82},{"c":1,"t":287,"v":0.8},{"c":1,"t":289.5,"v":0.95},{"c":1,"t":292,"v":1.01},{"c":1,"t":294.5,"v":0.9},{"c":1,"t":297.5,"v":0.69},{"c":1,"t":301.5,"v":0.23},{"c":1,"t":305.5,"v":0},{"c":1,"t":307.5,"v":-0.04},{"c":1,"t":309.5,"v":-0.01},{"c":1,"t":311.5,"v":-0.04},{"c":1,"t":313.5,"v":0.02},{"c":1,"t":315.5,"v":-0.03},{"c":1,"t":317.5,"v":0.01},{"c":1,"t":319.5,"v":-0.04},{"c":1,"t":321.5,"v":0.02},{"c":1,"t":323.5,"v":-0.04},{"c":1,"t":325.5,"v":0.01},{"c":1,"t":327.5,"v":-0.03},{"c":1,"t":329.5,"v":0.02},{"c":1,"t":332,"v":-0.04},{"c":1,"t":334.5,"v":0.01},{"c":1,"t":336.5,"v":-0.03},{"c":1,"t":338.5,"v":0.02},{"c":1,"t":340.5,"v":-0.03},{"c":1,"t":342.5,"v":0.01},{"c":1,"t":344.5,"v":-0.02},{"c":1,"t":346.5,"v":-0.1},{"c":1,"t":350.5,"v":-0.89},{"c":1,"t":354.5,"v":-1.1},{"c":1,"t":358.5,"v":-0.89},{"c":1,"t":362.5,"v":-0.52},{"c":1,"t":366.5,"v":-0.4},{"c":1,"t":368.5,"v":-0.46},{"c":1,"t":370.5,"v":-0.42},{"c":1,"t":374.5,"v":-0.24},{"c":1,"t":376.5,"v":-0.34},{"c":1,"t":378.5,"v":-0.3},{"c":1,"t":380.5,"v":-0.2},{"c":1,"t":383,"v":-0.26},{"c":1,"t":385,"v":-0.18},{"c":1,"t":387,"v":-0.1},{"c":1,"t":389,"v":-0.24},{"c":1,"t":391,"v":-0.15},{"c":1,"t":393,"v":-0.08},{"c":1,"t":395,"v":-0.06},{"c":1,"t":397,"v":-0.28},{"c":1,"t":399.5,"v":-0.16},{"c":1,"t":401.5,"v":-0.1},{"c":1,"t":403.5,"v":-0.04},{"c":1,"t":405.5,"v":-0.12},{"c":1,"t":407.5,"v":-0.04},
{"c":2,"t":425.5,"v":0},{"c":2,"t":428.5,"v":-0.04},{"c":2,"t":431.5,"v":-0.02},{"c":2,"t":435.5,"v":-0.04},{"c":2,"t":439.5,"v":0.02},{"c":2,"t":444,"v":0.29},{"c":2,"t":447.5,"v":0.6},{"c":2,"t":450,"v":0.82},{"c":2,"t":454,"v":0.8},{"c":2,"t":456.5,"v":0.95},{"c":2,"t":459,"v":1.01},{"c":2,"t":461.5,"v":0.9},{"c":2,"t":464.5,"v":0.69},{"c":2,"t":468.5,"v":0.23},{"c":2,"t":472.5,"v":0},{"c":2,"t":474.5,"v":-0.04},{"c":2,"t":476.5,"v":-0.01},{"c":2,"t":478.5,"v":-0.04},{"c":2,"t":480.5,"v":0.02},{"c":2,"t":482.5,"v":-0.03},{"c":2,"t":484.5,"v":0.01},{"c":2,"t":486.5,"v":-0.04},{"c":2,"t":488.5,"v":0.02},{"c":2,"t":490.5,"v":-0.04},{"c":2,"t":492.5,"v":0.01},{"c":2,"t":494.5,"v":-0.03},{"c":2,"t":496.5,"v":0.02},{"c":2,"t":499,"v":-0.04},{"c":2,"t":501.5,"v":0.01},{"c":2,"t":503.5,"v":-0.03},{"c":2,"t":505.5,"v":0.02},{"c":2,"t":507.5,"v":-0.03},{"c":2,"t":509.5,"v":0.01},{"c":2,"t":511.5,"v":-0.02},{"c":2,"t":513.5,"v":-0.1},{"c":2,"t":517.5,"v":-0.89},{"c":2,"t":521.5,"v":-1.1},{"c":2,"t":525.5,"v":-0.89},{"c":2,"t":529.5,"v":-0.52},{"c":2,"t":533.5,"v":-0.4},{"c":2,"t":535.5,"v":-0.46},{"c":2,"t":537.5,"v":-0.42},{"c":2,"t":541.5,"v":-0.24},{"c":2,"t":543.5,"v":-0.34},{"c":2,"t":545.5,"v":-0.3},{"c":2,"t":547.5,"v":-0.2},{"c":2,"t":550,"v":-0.26},{"c":2,"t":552,"v":-0.18},{"c":2,"t":554,"v":-0.1},{"c":2,"t":556,"v":-0.24},{"c":2,"t":558,"v":-0.15},{"c":2,"t":560,"v":-0.08},{"c":2,"t":562,"v":-0.06},{"c":2,"t":564,"v":-0.28},{"c":2,"t":566.5,"v":-0.16},{"c":2,"t":568.5,"v":-0.1},{"c":2,"t":570.5,"v":-0.04},{"c":2,"t":572.5,"v":-0.12},{"c":2,"t":574.5,"v":-0.04},
{"c":3,"t":592,"v":0},{"c":3,"t":595,"v":-0.04},{"c":3,"t":598,"v":-0.02},{"c":3,"t":602,"v":-0.04},{"c":3,"t":606,"v":0.02},{"c":3,"t":610.5,"v":0.29},{"c":3,"t":614,"v":0.6},{"c":3,"t":616.5,"v":0.82},{"c":3,"t":620.5,"v":0.8},{"c":3,"t":623,"v":0.95},{"c":3,"t":625.5,"v":1.01},{"c":3,"t":628,"v":0.9},{"c":3,"t":631,"v":0.69},{"c":3,"t":635,"v":0.23},{"c":3,"t":639,"v":0},{"c":3,"t":641,"v":-0.04},{"c":3,"t":643,"v":-0.01},{"c":3,"t":645,"v":-0.04},{"c":3,"t":647,"v":0.02},{"c":3,"t":649,"v":-0.03},{"c":3,"t":651,"v":0.01},{"c":3,"t":653,"v":-0.04},{"c":3,"t":655,"v":0.02},{"c":3,"t":657,"v":-0.04},{"c":3,"t":659,"v":0.01},{"c":3,"t":661,"v":-0.03},{"c":3,"t":663,"v":0.02},{"c":3,"t":665.5,"v":-0.04},{"c":3,"t":668,"v":0.01},{"c":3,"t":670,"v":-0.03},{"c":3,"t":672,"v":0.02},{"c":3,"t":674,"v":-0.03},{"c":3,"t":676,"v":0.01},{"c":3,"t":678,"v":-0.02},{"c":3,"t":680,"v":-0.1},{"c":3,"t":684,"v":-0.89},{"c":3,"t":688,"v":-1.1},{"c":3,"t":692,"v":-0.89},{"c":3,"t":696,"v":-0.52},{"c":3,"t":700,"v":-0.4},{"c":3,"t":702,"v":-0.46},{"c":3,"t":704,"v":-0.42},{"c":3,"t":708,"v":-0.24},{"c":3,"t":710,"v":-0.34},{"c":3,"t":712,"v":-0.3},{"c":3,"t":714,"v":-0.2},{"c":3,"t":716.5,"v":-0.26},{"c":3,"t":718.5,"v":-0.18},{"c":3,"t":720.5,"v":-0.1},{"c":3,"t":722.5,"v":-0.24},{"c":3,"t":724.5,"v":-0.15},{"c":3,"t":726.5,"v":-0.08},{"c":3,"t":728.5,"v":-0.06},{"c":3,"t":730.5,"v":-0.28},{"c":3,"t":733,"v":-0.16},{"c":3,"t":735,"v":-0.1},{"c":3,"t":737,"v":-0.04},{"c":3,"t":739,"v":-0.12},{"c":3,"t":741,"v":-0.04},
{"c":4,"t":759,"v":0},{"c":4,"t":762,"v":-0.04},{"c":4,"t":765,"v":-0.02},{"c":4,"t":769,"v":-0.04},{"c":4,"t":773,"v":0.02},{"c":4,"t":777.5,"v":0.29},{"c":4,"t":781,"v":0.6},{"c":4,"t":783.5,"v":0.82},{"c":4,"t":787.5,"v":0.8},{"c":4,"t":790,"v":0.95},{"c":4,"t":792.5,"v":1.01},{"c":4,"t":795,"v":0.9},{"c":4,"t":798,"v":0.69},{"c":4,"t":802,"v":0.23},{"c":4,"t":806,"v":0},{"c":4,"t":808,"v":-0.04},{"c":4,"t":810,"v":-0.01},{"c":4,"t":812,"v":-0.04},{"c":4,"t":814,"v":0.02},{"c":4,"t":816,"v":-0.03},{"c":4,"t":818,"v":0.01},{"c":4,"t":820,"v":-0.04},{"c":4,"t":822,"v":0.02},{"c":4,"t":824,"v":-0.04},{"c":4,"t":826,"v":0.01},{"c":4,"t":828,"v":-0.03},{"c":4,"t":830,"v":0.02},{"c":4,"t":832.5,"v":-0.04},{"c":4,"t":835,"v":0.01},{"c":4,"t":837,"v":-0.03},{"c":4,"t":839,"v":0.02},{"c":4,"t":841,"v":-0.03},{"c":4,"t":843,"v":0.01},{"c":4,"t":845,"v":-0.02},{"c":4,"t":847,"v":-0.1},{"c":4,"t":851,"v":-0.89},{"c":4,"t":855,"v":-1.1},{"c":4,"t":859,"v":-0.89},{"c":4,"t":863,"v":-0.52},{"c":4,"t":867,"v":-0.4},{"c":4,"t":869,"v":-0.46},{"c":4,"t":871,"v":-0.42},{"c":4,"t":875,"v":-0.24},{"c":4,"t":877,"v":-0.34},{"c":4,"t":879,"v":-0.3},{"c":4,"t":881,"v":-0.2},{"c":4,"t":883.5,"v":-0.26},{"c":4,"t":885.5,"v":-0.18},{"c":4,"t":887.5,"v":-0.1},{"c":4,"t":889.5,"v":-0.24},{"c":4,"t":891.5,"v":-0.15},{"c":4,"t":893.5,"v":-0.08},{"c":4,"t":895.5,"v":-0.06},{"c":4,"t":897.5,"v":-0.28},{"c":4,"t":900,"v":-0.16},{"c":4,"t":902,"v":-0.1},{"c":4,"t":904,"v":-0.04},{"c":4,"t":906,"v":-0.12},{"c":4,"t":908,"v":-0.04},
{"c":5,"t":925.5,"v":0},{"c":5,"t":928.5,"v":-0.04},{"c":5,"t":931.5,"v":-0.02},{"c":5,"t":935.5,"v":-0.04},{"c":5,"t":939.5,"v":0.02},{"c":5,"t":944,"v":0.29},{"c":5,"t":947.5,"v":0.6},{"c":5,"t":950,"v":0.82},{"c":5,"t":954,"v":0.8},{"c":5,"t":956.5,"v":0.95},{"c":5,"t":959,"v":1.01},{"c":5,"t":961.5,"v":0.9},{"c":5,"t":964.5,"v":0.69},{"c":5,"t":968.5,"v":0.23},{"c":5,"t":972.5,"v":0},{"c":5,"t":974.5,"v":-0.04},{"c":5,"t":976.5,"v":-0.01},{"c":5,"t":978.5,"v":-0.04},{"c":5,"t":980.5,"v":0.02},{"c":5,"t":982.5,"v":-0.03},{"c":5,"t":984.5,"v":0.01},{"c":5,"t":986.5,"v":-0.04},{"c":5,"t":988.5,"v":0.02},{"c":5,"t":990.5,"v":-0.04},{"c":5,"t":992.5,"v":0.01},{"c":5,"t":994.5,"v":-0.03},{"c":5,"t":996.5,"v":0.02},{"c":5,"t":999,"v":-0.04},{"c":5,"t":1001.5,"v":0.01},{"c":5,"t":1003.5,"v":-0.03},{"c":5,"t":1005.5,"v":0.02},{"c":5,"t":1007.5,"v":-0.03},{"c":5,"t":1009.5,"v":0.01},{"c":5,"t":1011.5,"v":-0.02},{"c":5,"t":1013.5,"v":-0.1},{"c":5,"t":1017.5,"v":-0.89},{"c":5,"t":1021.5,"v":-1.1},{"c":5,"t":1025.5,"v":-0.89},{"c":5,"t":1029.5,"v":-0.52},{"c":5,"t":1033.5,"v":-0.4},{"c":5,"t":1035.5,"v":-0.46},{"c":5,"t":1037.5,"v":-0.42},{"c":5,"t":1041.5,"v":-0.24},{"c":5,"t":1043.5,"v":-0.34},{"c":5,"t":1045.5,"v":-0.3},{"c":5,"t":1047.5,"v":-0.2},{"c":5,"t":1050,"v":-0.26},{"c":5,"t":1052,"v":-0.18},{"c":5,"t":1054,"v":-0.1},{"c":5,"t":1056,"v":-0.24},{"c":5,"t":1058,"v":-0.15},{"c":5,"t":1060,"v":-0.08},{"c":5,"t":1062,"v":-0.06},{"c":5,"t":1064,"v":-0.28},{"c":5,"t":1066.5,"v":-0.16},{"c":5,"t":1068.5,"v":-0.1},{"c":5,"t":1070.5,"v":-0.04},{"c":5,"t":1072.5,"v":-0.12},{"c":5,"t":1074.5,"v":-0.04},
{"c":6,"t":1092,"v":0},{"c":6,"t":1095,"v":-0.04},{"c":6,"t":1098,"v":-0.02},{"c":6,"t":1102,"v":-0.04},{"c":6,"t":1106,"v":0.02},{"c":6,"t":1110.5,"v":0.29},{"c":6,"t":1114,"v":0.6},{"c":6,"t":1116.5,"v":0.82},{"c":6,"t":1120.5,"v":0.8},{"c":6,"t":1123,"v":0.95},{"c":6,"t":1125.5,"v":1.01},{"c":6,"t":1128,"v":0.9},{"c":6,"t":1131,"v":0.69},{"c":6,"t":1135,"v":0.23},{"c":6,"t":1139,"v":0},{"c":6,"t":1141,"v":-0.04},{"c":6,"t":1143,"v":-0.01},{"c":6,"t":1145,"v":-0.04},{"c":6,"t":1147,"v":0.02},{"c":6,"t":1149,"v":-0.03},{"c":6,"t":1151,"v":0.01},{"c":6,"t":1153,"v":-0.04},{"c":6,"t":1155,"v":0.02},{"c":6,"t":1157,"v":-0.04},{"c":6,"t":1159,"v":0.01},{"c":6,"t":1161,"v":-0.03},{"c":6,"t":1163,"v":0.02},{"c":6,"t":1165.5,"v":-0.04},{"c":6,"t":1168,"v":0.01},{"c":6,"t":1170,"v":-0.03},{"c":6,"t":1172,"v":0.02},{"c":6,"t":1174,"v":-0.03},{"c":6,"t":1176,"v":0.01},{"c":6,"t":1178,"v":-0.02},{"c":6,"t":1180,"v":-0.1},{"c":6,"t":1184,"v":-0.89},{"c":6,"t":1188,"v":-1.1},{"c":6,"t":1192,"v":-0.89},{"c":6,"t":1196,"v":-0.52},{"c":6,"t":1200,"v":-0.4},{"c":6,"t":1202,"v":-0.46},{"c":6,"t":1204,"v":-0.42},{"c":6,"t":1208,"v":-0.24},{"c":6,"t":1210,"v":-0.34},{"c":6,"t":1212,"v":-0.3},{"c":6,"t":1214,"v":-0.2},{"c":6,"t":1216.5,"v":-0.26},{"c":6,"t":1218.5,"v":-0.18},{"c":6,"t":1220.5,"v":-0.1},{"c":6,"t":1222.5,"v":-0.24},{"c":6,"t":1224.5,"v":-0.15},{"c":6,"t":1226.5,"v":-0.08},{"c":6,"t":1228.5,"v":-0.06},{"c":6,"t":1230.5,"v":-0.28},{"c":6,"t":1233,"v":-0.16},{"c":6,"t":1235,"v":-0.1},{"c":6,"t":1237,"v":-0.04},{"c":6,"t":1239,"v":-0.12},{"c":6,"t":1241,"v":-0.04}
],
"dLab": [{"n":"1","s":"st","t":125.5},{"n":"10","s":"th","t":292},{"n":"20","s":"th","t":459},{"n":"30","s":"th","t":625.5},{"n":"40","s":"th","t":792.5},{"n":"50","s":"th","t":959},{"n":"54","s":"th","t":1125.5}],
"e": [
{"s":"HPF64","n":0,"v":2},{"s":"HPF64","n":10,"v":2},{"s":"HPF64","n":20,"v":2},{"s":"HPF64","n":30,"v":2},{"s":"HPF64","n":40,"v":2},{"s":"HPF64","n":50,"v":2},{"s":"HPF64","n":60,"v":2},{"s":"HPF64","n":70,"v":2},{"s":"HPF64","n":80,"v":2},{"s":"HPF64","n":90,"v":2},{"s":"HPF64","n":100,"v":2},{"s":"HPF64","n":110,"v":2},{"s":"HPF64","n":120,"v":2},{"s":"HPF64","n":130,"v":2},{"s":"HPF64","n":140,"v":2},{"s":"HPF64","n":150,"v":2},{"s":"HPF64","n":160,"v":2},{"s":"HPF64","n":170,"v":2},{"s":"HPF64","n":180,"v":2},{"s":"HPF64","n":190,"v":2},{"s":"HPF64","n":200,"v":2},{"s":"HPF64","n":210,"v":2},{"s":"HPF64","n":220,"v":2},{"s":"HPF64","n":230,"v":2},{"s":"HPF64","n":240,"v":2},{"s":"HPF64","n":250,"v":2},{"s":"HPF64","n":260,"v":2},{"s":"HPF64","n":270,"v":2},{"s":"HPF64","n":280,"v":2},{"s":"HPF64","n":290,"v":2},{"s":"HPF64","n":300,"v":2},
{"s":"HPF64","n":0,"v":-2},{"s":"HPF64","n":10,"v":-2},{"s":"HPF64","n":20,"v":-2},{"s":"HPF64","n":30,"v":-2},{"s":"HPF64","n":40,"v":-2},{"s":"HPF64","n":50,"v":-2},{"s":"HPF64","n":60,"v":-2},{"s":"HPF64","n":70,"v":-2},{"s":"HPF64","n":80,"v":-2},{"s":"HPF64","n":90,"v":-2},{"s":"HPF64","n":100,"v":-2},{"s":"HPF64","n":110,"v":-2},{"s":"HPF64","n":120,"v":-2},{"s":"HPF64","n":130,"v":-2},{"s":"HPF64","n":140,"v":-2},{"s":"HPF64","n":150,"v":-2},{"s":"HPF64","n":160,"v":-2},{"s":"HPF64","n":170,"v":-2},{"s":"HPF64","n":180,"v":-2},{"s":"HPF64","n":190,"v":-2},{"s":"HPF64","n":200,"v":-2},{"s":"HPF64","n":210,"v":-2},{"s":"HPF64","n":220,"v":-2},{"s":"HPF64","n":230,"v":-2},{"s":"HPF64","n":240,"v":-2},{"s":"HPF64","n":250,"v":-2},{"s":"HPF64","n":260,"v":-2},{"s":"HPF64","n":270,"v":-2},{"s":"HPF64","n":280,"v":-2},{"s":"HPF64","n":290,"v":-2},{"s":"HPF64","n":300,"v":-2},
{"s":"SPF64","n":0,"v":1.4},{"s":"SPF64","n":10,"v":1.4},{"s":"SPF64","n":20,"v":1.4},{"s":"SPF64","n":30,"v":1.4},{"s":"SPF64","n":40,"v":1.4},{"s":"SPF64","n":50,"v":1.4},{"s":"SPF64","n":60,"v":1.4},{"s":"SPF64","n":70,"v":1.4},{"s":"SPF64","n":80,"v":1.4},{"s":"SPF64","n":90,"v":1.4},{"s":"SPF64","n":100,"v":1.4},{"s":"SPF64","n":110,"v":1.4},{"s":"SPF64","n":120,"v":1.4},{"s":"SPF64","n":130,"v":1.4},{"s":"SPF64","n":140,"v":1.4},{"s":"SPF64","n":150,"v":1.4},{"s":"SPF64","n":160,"v":1.4},{"s":"SPF64","n":170,"v":1.4},{"s":"SPF64","n":180,"v":1.4},{"s":"SPF64","n":190,"v":1.4},{"s":"SPF64","n":200,"v":1.4},{"s":"SPF64","n":210,"v":1.4},{"s":"SPF64","n":214,"v":1.4},
{"s":"SPF64","n":0,"v":-1.41},{"s":"SPF64","n":10,"v":-1.41},{"s":"SPF64","n":20,"v":-1.41},{"s":"SPF64","n":30,"v":-1.41},{"s":"SPF64","n":40,"v":-1.41},{"s":"SPF64","n":50,"v":-1.41},{"s":"SPF64","n":60,"v":-1.41},{"s":"SPF64","n":70,"v":-1.41},{"s":"SPF64","n":80,"v":-1.41},{"s":"SPF64","n":90,"v":-1.41},{"s":"SPF64","n":100,"v":-1.41},{"s":"SPF64","n":110,"v":-1.41},{"s":"SPF64","n":120,"v":-1.41},{"s":"SPF64","n":130,"v":-1.41},{"s":"SPF64","n":140,"v":-1.41},{"s":"SPF64","n":150,"v":-1.41},{"s":"SPF64","n":160,"v":-1.41},{"s":"SPF64","n":170,"v":-1.41},{"s":"SPF64","n":180,"v":-1.41},{"s":"SPF64","n":190,"v":-1.41},{"s":"SPF64","n":200,"v":-1.41},{"s":"SPF64","n":210,"v":-1.41},{"s":"SPF64","n":214,"v":-1.41},
{"s":"HPF73","n":0,"v":1.0},{"s":"HPF73","n":10,"v":1.0},{"s":"HPF73","n":20,"v":1.0},{"s":"HPF73","n":30,"v":1.0},{"s":"HPF73","n":40,"v":1.0},{"s":"HPF73","n":50,"v":1.0},{"s":"HPF73","n":54,"v":1.0},
{"s":"HPF73","n":0,"v":-1.11},{"s":"HPF73","n":10,"v":-1.01},{"s":"HPF73","n":20,"v":-1.01},{"s":"HPF73","n":30,"v":-1.01},{"s":"HPF73","n":40,"v":-1.01},{"s":"HPF73","n":50,"v":-1.01},{"s":"HPF73","n":54,"v":-1.01},
{"s":"SPF73","n":0,"v":0.59},{"s":"SPF73","n":10,"v":0.59},{"s":"SPF73","n":20,"v":0.59},{"s":"SPF73","n":25,"v":0.59},
{"s":"SPF73","n":0,"v":-0.7},{"s":"SPF73","n":10,"v":-0.61},{"s":"SPF73","n":20,"v":-0.61},{"s":"SPF73","n":25,"v":-0.61}
],
"fail": [{"n":221,"v":1.4},{"n":221,"v":-1.41},{"n":61.5,"v":1.0},{"n":61.7,"v":-1.02},{"n":32.3,"v":0.59},{"n":32.4,"v":-0.61}],
"runout": [{"n":312.8,"v":2},{"n":312.8,"v":-2}]
},
"concat": [
{"concat": [
{"concat": [
{"width": 1, "height": 1, "view": {"stroke": null}, "data": {"values": [{}]}, "mark": {"type": "point", "opacity": 0, "size": 1}, "encoding": {}},
{"hconcat": [
{"width": 1150, "height": 824,
 "resolve": {"axis": {"x": "independent", "y": "independent"}},
 "layer": [
  {"data": {"name": "a"}, "mark": {"type": "line", "strokeWidth": 6, "strokeJoin": "round"},
   "encoding": {
    "x": {"field": "t", "type": "quantitative", "scale": {"domain": [0, 865], "nice": false, "zero": false}, "axis": {"title": "Time (s)", "labels": false, "ticks": false, "titleFontSize": 66, "titlePadding": 2}},
    "y": {"field": "v", "type": "quantitative", "scale": {"domain": [-1.8, 1.816], "nice": false, "zero": false}, "axis": {"values": [-1.5,-1,-0.5,0,0.5,1,1.5], "format": ".1f", "labelExpr": "replace(datum.label, '\u2212', '-')", "ticks": false, "labelFontSize": 54, "labelPadding": 9, "title": "ΔT\u00a0\u00a0\u00a0\u00a0\u00a0(K)", "titleFontSize": 62, "titleAngle": -90, "titleX": -118, "titleY": 376, "titleBaseline": "alphabetic", "titleAlign": "center"}},
    "color": {"field": "c", "type": "nominal", "scale": {"domain": [0,1,2,3,4,5,6], "range": ["#ff0a8c","#00dc00","#18a0ff","#a010e8","#ff8a10","#108282","#808000"]}, "legend": null}
   }},
  {"data": {"values": [{}]}, "mark": {"type": "point", "opacity": 0},
   "encoding": {
    "x": {"datum": 0, "type": "quantitative", "axis": {"orient": "top", "title": "(a)", "labels": false, "ticks": false, "titleFontSize": 100, "titleAngle": 0, "titleX": -246, "titleY": 85, "titleAlign": "left", "titleBaseline": "alphabetic"}},
    "y": {"datum": 0, "type": "quantitative", "axis": {"orient": "left", "values": [-1.75,-1.25,-0.75,-0.25,0.25,0.75,1.25,1.75], "labels": false, "tickSize": -14, "tickWidth": 5, "title": "ad", "titleFontSize": 48, "titleAngle": -90, "titleX": -110, "titleY": 389, "titleBaseline": "alphabetic", "titleAlign": "center"}}
   }},
  {"data": {"values": [{}]}, "mark": {"type": "point", "opacity": 0},
   "encoding": {
    "y": {"datum": 0, "type": "quantitative", "axis": {"orient": "left", "values": [-1.5,-1,-0.5,0,0.5,1,1.5], "labels": false, "tickSize": -24, "tickWidth": 5, "title": null}}
   }},
  {"data": {"name": "aLab"}, "mark": {"type": "text", "fontSize": 56, "align": "center", "baseline": "alphabetic"},
   "encoding": {"x": {"field": "t", "type": "quantitative", "axis": null}, "y": {"datum": 1.5, "type": "quantitative", "axis": null}, "text": {"field": "n"}}},
  {"data": {"name": "aLab"}, "transform": [{"filter": "length(datum.n) == 1"}], "mark": {"type": "text", "fontSize": 48, "align": "left", "baseline": "alphabetic", "dx": 15, "dy": -18},
   "encoding": {"x": {"field": "t", "type": "quantitative", "axis": null}, "y": {"datum": 1.5, "type": "quantitative", "axis": null}, "text": {"field": "s"}}},
  {"data": {"name": "aLab"}, "transform": [{"filter": "length(datum.n) == 2"}], "mark": {"type": "text", "fontSize": 48, "align": "left", "baseline": "alphabetic", "dx": 29, "dy": -18},
   "encoding": {"x": {"field": "t", "type": "quantitative", "axis": null}, "y": {"datum": 1.5, "type": "quantitative", "axis": null}, "text": {"field": "s"}}},
  {"data": {"name": "aLab"}, "transform": [{"filter": "length(datum.n) == 3"}], "mark": {"type": "text", "fontSize": 48, "align": "left", "baseline": "alphabetic", "dx": 43, "dy": -18},
   "encoding": {"x": {"field": "t", "type": "quantitative", "axis": null}, "y": {"datum": 1.5, "type": "quantitative", "axis": null}, "text": {"field": "s"}}},
  {"data": {"values": [{}]}, "mark": {"type": "rule", "strokeWidth": 8, "strokeCap": "round", "color": "black"},
   "encoding": {"x": {"datum": 46.6, "type": "quantitative", "axis": null}, "x2": {"datum": 146.6}, "y": {"datum": -1.71, "type": "quantitative", "axis": null}}},
  {"data": {"values": [{}]}, "mark": {"type": "text", "text": "100 s", "fontSize": 54, "align": "center", "baseline": "alphabetic"},
   "encoding": {"x": {"datum": 97.5, "type": "quantitative", "axis": null}, "y": {"datum": -1.63, "type": "quantitative", "axis": null}}},
  {"data": {"values": [{}]}, "mark": {"type": "rect", "fill": "transparent", "stroke": "#ff0000", "strokeWidth": 3},
   "encoding": {"x": {"datum": 504.5, "type": "quantitative", "axis": null}, "x2": {"datum": 855.6}, "y": {"datum": -1.443, "type": "quantitative", "axis": null}, "y2": {"datum": -1.759}}},
  {"data": {"values": [{}]}, "mark": {"type": "text", "text": "SPF @ 64% porosity", "fontSize": 50, "align": "center", "baseline": "alphabetic", "color": "#ff0000"},
   "encoding": {"x": {"datum": 680, "type": "quantitative", "axis": null}, "y": {"datum": -1.675, "type": "quantitative", "axis": null}}}
 ]},
{"width": 1146, "height": 820,
 "resolve": {"axis": {"x": "independent", "y": "independent"}},
 "layer": [
  {"data": {"name": "b"}, "mark": {"type": "line", "strokeWidth": 6, "strokeJoin": "round"},
   "encoding": {
    "x": {"field": "t", "type": "quantitative", "scale": {"domain": [0, 764], "nice": false, "zero": false}, "axis": {"title": "Time (s)", "labels": false, "ticks": false, "titleFontSize": 66, "titlePadding": 2}},
    "y": {"field": "v", "type": "quantitative", "scale": {"domain": [-0.89, 0.91], "nice": false, "zero": false}, "axis": {"values": [-0.8,-0.6,-0.4,-0.2,0,0.2,0.4,0.6,0.8], "format": ".1f", "labelExpr": "replace(datum.label, '\u2212', '-')", "ticks": false, "labelFontSize": 54, "labelPadding": 8, "title": "ΔT\u00a0\u00a0\u00a0\u00a0\u00a0(K)", "titleFontSize": 62, "titleAngle": -90, "titleX": -118, "titleY": 376, "titleBaseline": "alphabetic", "titleAlign": "center"}},
    "color": {"field": "c", "type": "nominal", "scale": {"domain": [0,1,2,3,4,5,6], "range": ["#ff0a8c","#00dc00","#18a0ff","#a010e8","#ff8a10","#108282","#808000"]}, "legend": null}
   }},
  {"data": {"values": [{}]}, "mark": {"type": "point", "opacity": 0},
   "encoding": {
    "x": {"datum": 0, "type": "quantitative", "axis": {"orient": "top", "title": "(b)", "labels": false, "ticks": false, "titleFontSize": 100, "titleAngle": 0, "titleX": -257, "titleY": 102, "titleAlign": "left", "titleBaseline": "alphabetic"}},
    "y": {"datum": 0, "type": "quantitative", "axis": {"orient": "left", "values": [-0.7,-0.5,-0.3,-0.1,0.1,0.3,0.5,0.7], "labels": false, "tickSize": -12, "tickWidth": 5, "title": "ad", "titleFontSize": 48, "titleAngle": -90, "titleX": -108, "titleY": 389, "titleBaseline": "alphabetic", "titleAlign": "center"}}
   }},
  {"data": {"values": [{}]}, "mark": {"type": "point", "opacity": 0},
   "encoding": {
    "y": {"datum": 0, "type": "quantitative", "axis": {"orient": "left", "values": [-0.8,-0.6,-0.4,-0.2,0,0.2,0.4,0.6,0.8], "labels": false, "tickSize": -23, "tickWidth": 5, "title": null}}
   }},
  {"data": {"name": "bLab"}, "mark": {"type": "text", "fontSize": 56, "align": "center", "baseline": "alphabetic"},
   "encoding": {"x": {"field": "t", "type": "quantitative", "axis": null}, "y": {"datum": 0.68, "type": "quantitative", "axis": null}, "text": {"field": "n"}}},
  {"data": {"name": "bLab"}, "transform": [{"filter": "length(datum.n) == 1"}], "mark": {"type": "text", "fontSize": 48, "align": "left", "baseline": "alphabetic", "dx": 15, "dy": -18},
   "encoding": {"x": {"field": "t", "type": "quantitative", "axis": null}, "y": {"datum": 0.68, "type": "quantitative", "axis": null}, "text": {"field": "s"}}},
  {"data": {"name": "bLab"}, "transform": [{"filter": "length(datum.n) == 2"}], "mark": {"type": "text", "fontSize": 48, "align": "left", "baseline": "alphabetic", "dx": 29, "dy": -18},
   "encoding": {"x": {"field": "t", "type": "quantitative", "axis": null}, "y": {"datum": 0.68, "type": "quantitative", "axis": null}, "text": {"field": "s"}}},
  {"data": {"values": [{}]}, "mark": {"type": "rule", "strokeWidth": 8, "strokeCap": "round", "color": "black"},
   "encoding": {"x": {"datum": 30.7, "type": "quantitative", "axis": null}, "x2": {"datum": 130.7}, "y": {"datum": -0.846, "type": "quantitative", "axis": null}}},
  {"data": {"values": [{}]}, "mark": {"type": "text", "text": "100 s", "fontSize": 54, "align": "center", "baseline": "alphabetic"},
   "encoding": {"x": {"datum": 80, "type": "quantitative", "axis": null}, "y": {"datum": -0.81, "type": "quantitative", "axis": null}}},
  {"data": {"values": [{}]}, "mark": {"type": "rect", "fill": "transparent", "stroke": "#ff0000", "strokeWidth": 3},
   "encoding": {"x": {"datum": 445.3, "type": "quantitative", "axis": null}, "x2": {"datum": 756}, "y": {"datum": -0.72, "type": "quantitative", "axis": null}, "y2": {"datum": -0.862}}},
  {"data": {"values": [{}]}, "mark": {"type": "text", "text": "SPF @ 73% porosity", "fontSize": 50, "align": "center", "baseline": "alphabetic", "color": "#ff0000"},
   "encoding": {"x": {"datum": 600.6, "type": "quantitative", "axis": null}, "y": {"datum": -0.835, "type": "quantitative", "axis": null}}}
 ]}
], "spacing": 63.5}
], "columns": 2, "align": "none", "spacing": 19},
{"concat": [
{"width": 1, "height": 1, "view": {"stroke": null}, "data": {"values": [{}]}, "mark": {"type": "point", "opacity": 0, "size": 1}, "encoding": {}},
{"hconcat": [
{"width": 1182, "height": 844,
 "resolve": {"axis": {"x": "independent", "y": "independent"}},
 "layer": [
  {"data": {"name": "c"}, "mark": {"type": "line", "strokeWidth": 6, "strokeJoin": "round"},
   "encoding": {
    "x": {"field": "t", "type": "quantitative", "scale": {"domain": [0, 856.5], "nice": false, "zero": false}, "axis": {"title": "Time (s)", "labels": false, "ticks": false, "titleFontSize": 66, "titlePadding": 2}},
    "y": {"field": "v", "type": "quantitative", "scale": {"domain": [-2.69, 2.8], "nice": false, "zero": false}, "axis": {"values": [-2,-1,0,1,2], "format": "d", "labelExpr": "replace(datum.label, '\u2212', '-')", "ticks": false, "labelFontSize": 54, "labelPadding": 10, "title": "ΔT\u00a0\u00a0\u00a0\u00a0\u00a0(K)", "titleFontSize": 62, "titleAngle": -90, "titleX": -89, "titleY": 385, "titleBaseline": "alphabetic", "titleAlign": "center"}},
    "color": {"field": "c", "type": "nominal", "scale": {"domain": [0,1,2,3,4,5,6], "range": ["#ff0a8c","#00dc00","#18a0ff","#a010e8","#ff8a10","#108282","#808000"]}, "legend": null}
   }},
  {"data": {"values": [{}]}, "mark": {"type": "point", "opacity": 0},
   "encoding": {
    "x": {"datum": 0, "type": "quantitative", "axis": {"orient": "top", "title": "(c)", "labels": false, "ticks": false, "titleFontSize": 100, "titleAngle": 0, "titleX": -210, "titleY": 78, "titleAlign": "left", "titleBaseline": "alphabetic"}},
    "y": {"datum": 0, "type": "quantitative", "axis": {"orient": "left", "values": [-2.5,-1.5,-0.5,0.5,1.5,2.5], "labels": false, "tickSize": -12, "tickWidth": 5, "title": "ad", "titleFontSize": 48, "titleAngle": -90, "titleX": -87, "titleY": 399, "titleBaseline": "alphabetic", "titleAlign": "center"}}
   }},
  {"data": {"values": [{}]}, "mark": {"type": "point", "opacity": 0},
   "encoding": {
    "y": {"datum": 0, "type": "quantitative", "axis": {"orient": "left", "values": [-2,-1,0,1,2], "labels": false, "tickSize": -23, "tickWidth": 5, "title": null}}
   }},
  {"data": {"name": "cLab"}, "mark": {"type": "text", "fontSize": 56, "align": "center", "baseline": "alphabetic"},
   "encoding": {"x": {"field": "t", "type": "quantitative", "axis": null}, "y": {"datum": 2.19, "type": "quantitative", "axis": null}, "text": {"field": "n"}}},
  {"data": {"name": "cLab"}, "transform": [{"filter": "length(datum.n) == 1"}], "mark": {"type": "text", "fontSize": 48, "align": "left", "baseline": "alphabetic", "dx": 15, "dy": -18},
   "encoding": {"x": {"field": "t", "type": "quantitative", "axis": null}, "y": {"datum": 2.19, "type": "quantitative", "axis": null}, "text": {"field": "s"}}},
  {"data": {"name": "cLab"}, "transform": [{"filter": "length(datum.n) == 2"}], "mark": {"type": "text", "fontSize": 48, "align": "left", "baseline": "alphabetic", "dx": 29, "dy": -18},
   "encoding": {"x": {"field": "t", "type": "quantitative", "axis": null}, "y": {"datum": 2.19, "type": "quantitative", "axis": null}, "text": {"field": "s"}}},
  {"data": {"name": "cLab"}, "transform": [{"filter": "length(datum.n) == 3"}], "mark": {"type": "text", "fontSize": 48, "align": "left", "baseline": "alphabetic", "dx": 43, "dy": -18},
   "encoding": {"x": {"field": "t", "type": "quantitative", "axis": null}, "y": {"datum": 2.19, "type": "quantitative", "axis": null}, "text": {"field": "s"}}},
  {"data": {"values": [{}]}, "mark": {"type": "rule", "strokeWidth": 8, "strokeCap": "round", "color": "black"},
   "encoding": {"x": {"datum": 29.8, "type": "quantitative", "axis": null}, "x2": {"datum": 129.7}, "y": {"datum": -2.55, "type": "quantitative", "axis": null}}},
  {"data": {"values": [{}]}, "mark": {"type": "text", "text": "100 s", "fontSize": 54, "align": "center", "baseline": "alphabetic"},
   "encoding": {"x": {"datum": 79, "type": "quantitative", "axis": null}, "y": {"datum": -2.39, "type": "quantitative", "axis": null}}},
  {"data": {"values": [{}]}, "mark": {"type": "rect", "fill": "transparent", "stroke": "#ff0000", "strokeWidth": 3},
   "encoding": {"x": {"datum": 490, "type": "quantitative", "axis": null}, "x2": {"datum": 845}, "y": {"datum": -2.185, "type": "quantitative", "axis": null}, "y2": {"datum": -2.628}}},
  {"data": {"values": [{}]}, "mark": {"type": "text", "text": "HPF @ 64% porosity", "fontSize": 50, "align": "center", "baseline": "alphabetic", "color": "#ff0000"},
   "encoding": {"x": {"datum": 667.5, "type": "quantitative", "axis": null}, "y": {"datum": -2.54, "type": "quantitative", "axis": null}}}
 ]},
{"width": 1144, "height": 816,
 "resolve": {"axis": {"x": "independent", "y": "independent"}},
 "layer": [
  {"data": {"name": "d"}, "mark": {"type": "line", "strokeWidth": 6, "strokeJoin": "round"},
   "encoding": {
    "x": {"field": "t", "type": "quantitative", "scale": {"domain": [0, 1300], "nice": false, "zero": false}, "axis": {"title": "Time (s)", "labels": false, "ticks": false, "titleFontSize": 66, "titlePadding": 2}},
    "y": {"field": "v", "type": "quantitative", "scale": {"domain": [-1.4, 1.404], "nice": false, "zero": false}, "axis": {"values": [-1,-0.5,0,0.5,1], "format": ".1f", "labelExpr": "replace(datum.label, '\u2212', '-')", "ticks": false, "labelFontSize": 54, "labelPadding": 8, "title": "ΔT\u00a0\u00a0\u00a0\u00a0\u00a0(K)", "titleFontSize": 62, "titleAngle": -90, "titleX": -128, "titleY": 386, "titleBaseline": "alphabetic", "titleAlign": "center"}},
    "color": {"field": "c", "type": "nominal", "scale": {"domain": [0,1,2,3,4,5,6], "range": ["#ff0a8c","#00dc00","#18a0ff","#a010e8","#ff8a10","#108282","#808000"]}, "legend": null}
   }},
  {"data": {"values": [{}]}, "mark": {"type": "point", "opacity": 0},
   "encoding": {
    "x": {"datum": 0, "type": "quantitative", "axis": {"orient": "top", "title": "(d)", "labels": false, "ticks": false, "titleFontSize": 100, "titleAngle": 0, "titleX": -267, "titleY": 92, "titleAlign": "left", "titleBaseline": "alphabetic"}},
    "y": {"datum": 0, "type": "quantitative", "axis": {"orient": "left", "values": [-1.25,-0.75,-0.25,0.25,0.75,1.25], "labels": false, "tickSize": -11, "tickWidth": 5, "title": "ad", "titleFontSize": 48, "titleAngle": -90, "titleX": -119, "titleY": 399, "titleBaseline": "alphabetic", "titleAlign": "center"}}
   }},
  {"data": {"values": [{}]}, "mark": {"type": "point", "opacity": 0},
   "encoding": {
    "y": {"datum": 0, "type": "quantitative", "axis": {"orient": "left", "values": [-1,-0.5,0,0.5,1], "labels": false, "tickSize": -21, "tickWidth": 5, "title": null}}
   }},
  {"data": {"name": "dLab"}, "mark": {"type": "text", "fontSize": 56, "align": "center", "baseline": "alphabetic"},
   "encoding": {"x": {"field": "t", "type": "quantitative", "axis": null}, "y": {"datum": 1.06, "type": "quantitative", "axis": null}, "text": {"field": "n"}}},
  {"data": {"name": "dLab"}, "transform": [{"filter": "length(datum.n) == 1"}], "mark": {"type": "text", "fontSize": 48, "align": "left", "baseline": "alphabetic", "dx": 15, "dy": -18},
   "encoding": {"x": {"field": "t", "type": "quantitative", "axis": null}, "y": {"datum": 1.06, "type": "quantitative", "axis": null}, "text": {"field": "s"}}},
  {"data": {"name": "dLab"}, "transform": [{"filter": "length(datum.n) == 2"}], "mark": {"type": "text", "fontSize": 48, "align": "left", "baseline": "alphabetic", "dx": 29, "dy": -18},
   "encoding": {"x": {"field": "t", "type": "quantitative", "axis": null}, "y": {"datum": 1.06, "type": "quantitative", "axis": null}, "text": {"field": "s"}}},
  {"data": {"values": [{}]}, "mark": {"type": "rule", "strokeWidth": 8, "strokeCap": "round", "color": "black"},
   "encoding": {"x": {"datum": 91, "type": "quantitative", "axis": null}, "x2": {"datum": 190}, "y": {"datum": -1.343, "type": "quantitative", "axis": null}}},
  {"data": {"values": [{}]}, "mark": {"type": "text", "text": "100 s", "fontSize": 54, "align": "center", "baseline": "alphabetic"},
   "encoding": {"x": {"datum": 142, "type": "quantitative", "axis": null}, "y": {"datum": -1.27, "type": "quantitative", "axis": null}}},
  {"data": {"values": [{}]}, "mark": {"type": "rect", "fill": "transparent", "stroke": "#ff0000", "strokeWidth": 3},
   "encoding": {"x": {"datum": 745, "type": "quantitative", "axis": null}, "x2": {"datum": 1291}, "y": {"datum": -1.134, "type": "quantitative", "axis": null}, "y2": {"datum": -1.36}}},
  {"data": {"values": [{}]}, "mark": {"type": "text", "text": "HPF @ 73% porosity", "fontSize": 50, "align": "center", "baseline": "alphabetic", "color": "#ff0000"},
   "encoding": {"x": {"datum": 1018, "type": "quantitative", "axis": null}, "y": {"datum": -1.32, "type": "quantitative", "axis": null}}}
 ]}
], "spacing": 61.5}
], "columns": 2, "align": "none", "spacing": 19}
], "columns": 1, "align": "none", "spacing": 46.5},
{"concat": [
{"width": 1, "height": 1, "view": {"stroke": null}, "data": {"values": [{}]}, "mark": {"type": "point", "opacity": 0, "size": 1}, "encoding": {}},
{"width": 2296, "height": 970,
 "view": {"stroke": "black", "strokeWidth": 9},
 "resolve": {"axis": {"x": "independent", "y": "independent"}},
 "layer": [
  {"data": {"name": "e"}, "transform": [{"filter": "datum.s == 'HPF64'"}], "mark": {"type": "point", "shape": "circle", "size": 1500, "filled": false, "strokeWidth": 6, "color": "#ff4db0", "opacity": 1},
   "encoding": {
    "x": {"field": "n", "type": "quantitative", "scale": {"domain": [-9.7, 322.6], "nice": false, "zero": false}, "axis": {"values": [0,50,100,150,200,250,300], "format": "d", "ticks": false, "labelFontSize": 74, "labelPadding": -1, "title": "Cycle Numbers", "titleFontSize": 98, "titlePadding": 6}},
    "y": {"field": "v", "type": "quantitative", "scale": {"domain": [-2.81, 2.8], "nice": false, "zero": false}, "axis": {"values": [-2,-1,0,1,2], "format": "d", "labelExpr": "replace(datum.label, '\u2212', '-')", "ticks": false, "labelFontSize": 72, "labelPadding": 20, "title": "ΔT\u00a0\u00a0\u00a0\u00a0\u00a0(K)", "titleFontSize": 104, "titleAngle": -90, "titleX": -130, "titleY": 421, "titleBaseline": "alphabetic", "titleAlign": "center"}}
   }},
  {"data": {"name": "e"}, "transform": [{"filter": "datum.s == 'SPF64'"}], "mark": {"type": "point", "shape": "square", "size": 1100, "filled": false, "strokeWidth": 7, "color": "#008000", "opacity": 1},
   "encoding": {"x": {"field": "n", "type": "quantitative", "axis": null}, "y": {"field": "v", "type": "quantitative", "axis": null}}},
  {"data": {"name": "e"}, "transform": [{"filter": "datum.s == 'HPF73'"}], "mark": {"type": "point", "shape": "triangle-right", "size": 2400, "filled": false, "strokeWidth": 6, "color": "#00a0ff", "opacity": 1},
   "encoding": {"x": {"field": "n", "type": "quantitative", "axis": null}, "y": {"field": "v", "type": "quantitative", "axis": null}}},
  {"data": {"name": "e"}, "transform": [{"filter": "datum.s == 'SPF73'"}], "mark": {"type": "point", "shape": "diamond", "size": 2700, "filled": false, "strokeWidth": 6, "color": "#800000", "opacity": 1},
   "encoding": {"x": {"field": "n", "type": "quantitative", "axis": null}, "y": {"field": "v", "type": "quantitative", "axis": null}}},
  {"data": {"values": [{}]}, "mark": {"type": "rule", "strokeWidth": 10, "color": "black"},
   "encoding": {"y": {"datum": 0, "type": "quantitative", "axis": null}}},
  {"data": {"values": [{}]}, "mark": {"type": "point", "opacity": 0},
   "encoding": {
    "x": {"datum": 0, "type": "quantitative", "axis": {"orient": "bottom", "values": [25,75,125,175,225,275], "labels": false, "tickSize": -16, "tickWidth": 8, "title": null}},
    "y": {"datum": 0, "type": "quantitative", "axis": {"orient": "left", "values": [-2.5,-1.5,-0.5,0.5,1.5,2.5], "labels": false, "tickSize": -16, "tickWidth": 8, "title": "ad", "titleFontSize": 64, "titleAngle": -90, "titleX": -102, "titleY": 449, "titleBaseline": "alphabetic", "titleAlign": "center"}}
   }},
  {"data": {"values": [{}]}, "mark": {"type": "point", "opacity": 0},
   "encoding": {
    "x": {"datum": 0, "type": "quantitative", "axis": {"orient": "bottom", "values": [0,50,100,150,200,250,300], "labels": false, "tickSize": -32, "tickWidth": 8, "title": null}},
    "y": {"datum": 0, "type": "quantitative", "axis": {"orient": "left", "values": [-2,-1,0,1,2], "labels": false, "tickSize": -32, "tickWidth": 8, "title": null}}
   }},
  {"data": {"values": [{}]}, "mark": {"type": "point", "opacity": 0},
   "encoding": {
    "x": {"datum": 0, "type": "quantitative", "axis": {"orient": "top", "title": "(e)", "labels": false, "ticks": false, "titleFontSize": 100, "titleAngle": 0, "titleX": -284, "titleY": 74, "titleAlign": "left", "titleBaseline": "alphabetic"}},
    "y": {"datum": 0, "type": "quantitative", "axis": null}
   }},
  {"data": {"name": "fail"}, "mark": {"type": "text", "text": "X", "font": "Liberation Sans", "fontWeight": "bold", "fontSize": 94, "color": "#ff0000", "align": "center", "baseline": "middle"},
   "encoding": {"x": {"field": "n", "type": "quantitative", "axis": null}, "y": {"field": "v", "type": "quantitative", "axis": null}}},
  {"data": {"name": "runout"}, "mark": {"type": "point", "shape": "M-1,-0.22L0,-0.22L0,-0.64L1,0L0,0.64L0,0.22L-1,0.22Z", "size": 10816, "filled": true, "color": "#ff0000", "strokeWidth": 0, "opacity": 1},
   "encoding": {"x": {"field": "n", "type": "quantitative", "axis": null}, "y": {"field": "v", "type": "quantitative", "axis": null}}},
  {"data": {"values": [{}]}, "mark": {"type": "text", "text": "HPF @ 64% porosity", "fontSize": 55, "align": "left", "baseline": "alphabetic"},
   "encoding": {"x": {"datum": 219.5, "type": "quantitative", "axis": null}, "y": {"datum": 2.35, "type": "quantitative", "axis": null}}},
  {"data": {"values": [{}]}, "mark": {"type": "text", "text": "SPF @ 64% porosity", "fontSize": 55, "align": "left", "baseline": "alphabetic"},
   "encoding": {"x": {"datum": 203.3, "type": "quantitative", "axis": null}, "y": {"datum": 0.74, "type": "quantitative", "axis": null}}},
  {"data": {"values": [{}]}, "mark": {"type": "text", "text": "HPF @ 73% porosity", "fontSize": 55, "align": "left", "baseline": "alphabetic"},
   "encoding": {"x": {"datum": 54.5, "type": "quantitative", "axis": null}, "y": {"datum": 0.39, "type": "quantitative", "axis": null}}},
  {"data": {"values": [{}]}, "mark": {"type": "text", "text": "SPF @ 64% porosity", "fontSize": 55, "align": "left", "baseline": "alphabetic"},
   "encoding": {"x": {"datum": 48.7, "type": "quantitative", "axis": null}, "y": {"datum": -0.35, "type": "quantitative", "axis": null}}},
  {"data": {"values": [{}]}, "mark": {"type": "rule", "strokeWidth": 3.5, "color": "black"},
   "encoding": {"x": {"datum": 217.7, "type": "quantitative", "axis": null}, "x2": {"datum": 211.5}, "y": {"datum": 2.34, "type": "quantitative", "axis": null}, "y2": {"datum": 2.17}}},
  {"data": {"values": [{}]}, "mark": {"type": "point", "shape": "M0,0L0.45,1.6L-0.45,1.6Z", "size": 900, "filled": true, "color": "black", "strokeWidth": 0, "opacity": 1, "angle": 235.5},
   "encoding": {"x": {"datum": 210.3, "type": "quantitative", "axis": null}, "y": {"datum": 2.14, "type": "quantitative", "axis": null}}},
  {"data": {"values": [{}]}, "mark": {"type": "rule", "strokeWidth": 3.5, "color": "black"},
   "encoding": {"x": {"datum": 202.3, "type": "quantitative", "axis": null}, "x2": {"datum": 195.3}, "y": {"datum": 0.88, "type": "quantitative", "axis": null}, "y2": {"datum": 1.19}}},
  {"data": {"values": [{}]}, "mark": {"type": "point", "shape": "M0,0L0.45,1.6L-0.45,1.6Z", "size": 900, "filled": true, "color": "black", "strokeWidth": 0, "opacity": 1, "angle": 317.4},
   "encoding": {"x": {"datum": 194, "type": "quantitative", "axis": null}, "y": {"datum": 1.24, "type": "quantitative", "axis": null}}},
  {"data": {"values": [{}]}, "mark": {"type": "rule", "strokeWidth": 3.5, "color": "black"},
   "encoding": {"x": {"datum": 54.2, "type": "quantitative", "axis": null}, "x2": {"datum": 48.8}, "y": {"datum": 0.51, "type": "quantitative", "axis": null}, "y2": {"datum": 0.75}}},
  {"data": {"values": [{}]}, "mark": {"type": "point", "shape": "M0,0L0.45,1.6L-0.45,1.6Z", "size": 900, "filled": true, "color": "black", "strokeWidth": 0, "opacity": 1, "angle": 318.2},
   "encoding": {"x": {"datum": 47.7, "type": "quantitative", "axis": null}, "y": {"datum": 0.8, "type": "quantitative", "axis": null}}},
  {"data": {"values": [{}]}, "mark": {"type": "rule", "strokeWidth": 3.5, "color": "black"},
   "encoding": {"x": {"datum": 46.8, "type": "quantitative", "axis": null}, "x2": {"datum": 36.8}, "y": {"datum": -0.32, "type": "quantitative", "axis": null}, "y2": {"datum": -0.54}}},
  {"data": {"values": [{}]}, "mark": {"type": "point", "shape": "M0,0L0.45,1.6L-0.45,1.6Z", "size": 900, "filled": true, "color": "black", "strokeWidth": 0, "opacity": 1, "angle": 241.5},
   "encoding": {"x": {"datum": 35.3, "type": "quantitative", "axis": null}, "y": {"datum": -0.57, "type": "quantitative", "axis": null}}},
  {"data": {"values": [{}]}, "mark": {"type": "text", "text": "Loading", "fontSize": 75, "align": "center", "baseline": "alphabetic", "color": "#0000a0"},
   "encoding": {"x": {"datum": 158.6, "type": "quantitative", "axis": null}, "y": {"datum": 0.13, "type": "quantitative", "axis": null}}},
  {"data": {"values": [{}]}, "mark": {"type": "text", "text": "Unloading", "fontSize": 75, "align": "center", "baseline": "alphabetic", "color": "#0000a0"},
   "encoding": {"x": {"datum": 158.3, "type": "quantitative", "axis": null}, "y": {"datum": -0.49, "type": "quantitative", "axis": null}}},
  {"data": {"values": [{}]}, "mark": {"type": "rect", "fill": "transparent", "stroke": "#008080", "strokeWidth": 4, "strokeDash": [12, 9]},
   "encoding": {"x": {"datum": 268.5, "type": "quantitative", "axis": null}, "x2": {"datum": 319.7}, "y": {"datum": -0.13, "type": "quantitative", "axis": null}, "y2": {"datum": -1.156}}},
  {"data": {"values": [{}]}, "mark": {"type": "point", "shape": "M-1,-0.22L0,-0.22L0,-0.64L1,0L0,0.64L0,0.22L-1,0.22Z", "size": 10816, "filled": true, "color": "#ff0000", "strokeWidth": 0, "opacity": 1},
   "encoding": {"x": {"datum": 277.4, "type": "quantitative", "axis": null}, "y": {"datum": -0.43, "type": "quantitative", "axis": null}}},
  {"data": {"values": [{}]}, "mark": {"type": "text", "text": "runout", "fontSize": 74, "align": "left", "baseline": "alphabetic", "color": "#000080"},
   "encoding": {"x": {"datum": 285.8, "type": "quantitative", "axis": null}, "y": {"datum": -0.47, "type": "quantitative", "axis": null}}},
  {"data": {"values": [{}]}, "mark": {"type": "text", "text": "X", "font": "Liberation Sans", "fontWeight": "bold", "fontSize": 94, "color": "#ff0000", "align": "center", "baseline": "middle"},
   "encoding": {"x": {"datum": 280.7, "type": "quantitative", "axis": null}, "y": {"datum": -0.885, "type": "quantitative", "axis": null}}},
  {"data": {"values": [{}]}, "mark": {"type": "text", "text": "failure", "fontSize": 74, "align": "left", "baseline": "alphabetic", "color": "#000080"},
   "encoding": {"x": {"datum": 287, "type": "quantitative", "axis": null}, "y": {"datum": -1.0, "type": "quantitative", "axis": null}}}
 ]}
], "columns": 2, "align": "none", "spacing": 175}
],
"columns": 1,
"align": "none",
"spacing": 59.5
}
